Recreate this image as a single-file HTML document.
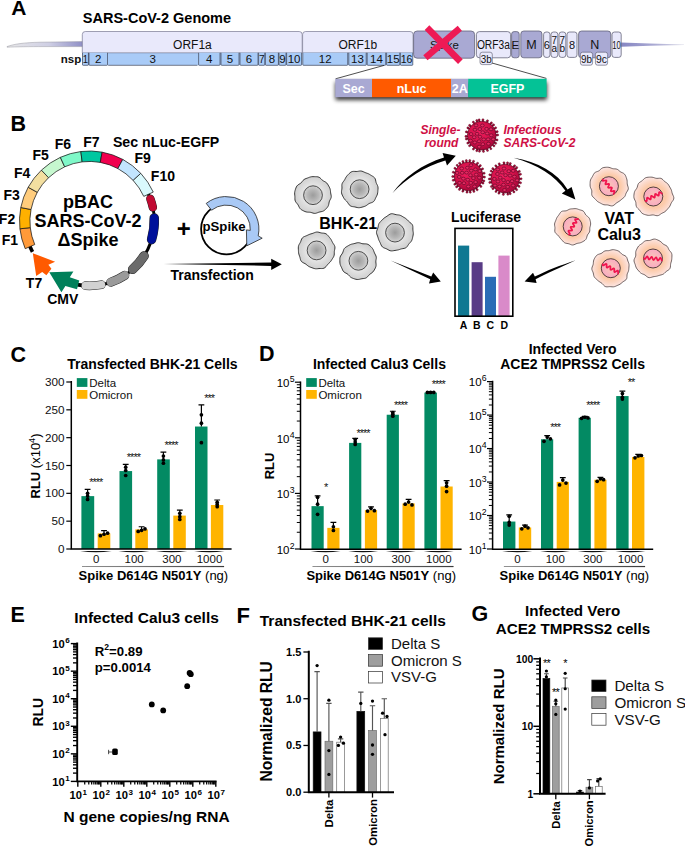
<!DOCTYPE html>
<html>
<head>
<meta charset="utf-8">
<title>Figure</title>
<style>
html,body{margin:0;padding:0;background:#fff;}
body{width:685px;height:847px;overflow:hidden;position:relative;}
svg{position:absolute;left:0;top:0;display:block;}
svg text{font-family:"Liberation Sans",sans-serif;}
</style>
</head>
<body>
<svg width="685" height="847" viewBox="0 0 685 847">
<rect x="0" y="0" width="685" height="847" fill="#ffffff"/>
<defs><linearGradient id="tailL" x1="0" x2="1" y1="0" y2="0"><stop offset="0" stop-color="#e8e8e8"/><stop offset="0.55" stop-color="#cfcfe4"/><stop offset="1" stop-color="#8f8fc6"/></linearGradient><linearGradient id="tailR" x1="0" x2="1" y1="0" y2="0"><stop offset="0" stop-color="#8585c2"/><stop offset="0.5" stop-color="#a8a8d2"/><stop offset="1" stop-color="#dcdce8"/></linearGradient><filter id="blurA" x="-5%" y="-60%" width="110%" height="220%"><feGaussianBlur stdDeviation="2.1"/></filter></defs>
<text x="11.20" y="15.40" font-size="21" font-weight="bold" text-anchor="start" fill="#000" >A</text>
<text x="82.80" y="22.50" font-size="14.5" font-weight="bold" text-anchor="start" fill="#000" >SARS-CoV-2 Genome</text>
<path d="M7,46.6 C14,44 24,42.6 40,42.2 L83,41.6 L83,46.6 L44,46.6 C30,46.6 16,46.8 7,47.2 Z" fill="url(#tailL)" stroke="#8c8c98" stroke-width="0.45"/>
<path d="M621,42.5 L650,43.5 L684,44.4 L684,44.9 L650,45.7 L621,46.7 Z" fill="url(#tailR)"/>
<rect x="82.3" y="52.8" width="219.9" height="12.5" fill="#a9cbf7"/>
<path d="M82.3,52.8 L82.3,34.5 Q82.3,31.5 85.3,31.5 L299.2,31.5 Q302.2,31.5 302.2,34.5 L302.2,52.8 Z" fill="#e9e9fb" stroke="#70708a" stroke-width="0.65"/>
<text x="192.40" y="48.60" font-size="12" font-weight="normal" text-anchor="middle" fill="#111" >ORF1a</text>
<path d="M82.5,52.8 L82.5,64.5 Q82.5,65.3 83.3,65.3 L87.60000000000001,65.3 Q88.4,65.3 88.4,64.5 L88.4,52.8" fill="#a9cbf7" stroke="#2e2e3a" stroke-width="0.6"/><text x="85.45" y="63.40" font-size="11.5" font-weight="normal" text-anchor="middle" fill="#111" textLength="5.3" lengthAdjust="spacingAndGlyphs">1</text>
<path d="M89,52.8 L89,64.5 Q89,65.3 89.8,65.3 L106.7,65.3 Q107.5,65.3 107.5,64.5 L107.5,52.8" fill="#a9cbf7" stroke="#2e2e3a" stroke-width="0.6"/><text x="98.25" y="63.40" font-size="11.5" font-weight="normal" text-anchor="middle" fill="#111" >2</text>
<path d="M108.2,65.3 L197.4,65.3" fill="none" stroke="#2e2e3a" stroke-width="0.6"/><text x="152.80" y="63.40" font-size="11.5" font-weight="normal" text-anchor="middle" fill="#111" >3</text>
<path d="M198.6,52.8 L198.6,64.5 Q198.6,65.3 199.4,65.3 L219.2,65.3 Q220,65.3 220,64.5 L220,52.8" fill="#a9cbf7" stroke="#2e2e3a" stroke-width="0.6"/><text x="209.30" y="63.40" font-size="11.5" font-weight="normal" text-anchor="middle" fill="#111" >4</text>
<path d="M221,52.8 L221,64.5 Q221,65.3 221.8,65.3 L238.2,65.3 Q239,65.3 239,64.5 L239,52.8" fill="#a9cbf7" stroke="#2e2e3a" stroke-width="0.6"/><text x="230.00" y="63.40" font-size="11.5" font-weight="normal" text-anchor="middle" fill="#111" >5</text>
<path d="M240,52.8 L240,64.5 Q240,65.3 240.8,65.3 L257.2,65.3 Q258,65.3 258,64.5 L258,52.8" fill="#a9cbf7" stroke="#2e2e3a" stroke-width="0.6"/><text x="249.00" y="63.40" font-size="11.5" font-weight="normal" text-anchor="middle" fill="#111" >6</text>
<path d="M258.6,52.8 L258.6,64.5 Q258.6,65.3 259.40000000000003,65.3 L264.0,65.3 Q264.8,65.3 264.8,64.5 L264.8,52.8" fill="#a9cbf7" stroke="#2e2e3a" stroke-width="0.6"/><text x="261.70" y="63.40" font-size="11.5" font-weight="normal" text-anchor="middle" fill="#111" textLength="5.6" lengthAdjust="spacingAndGlyphs">7</text>
<path d="M265.4,52.8 L265.4,64.5 Q265.4,65.3 266.2,65.3 L277.59999999999997,65.3 Q278.4,65.3 278.4,64.5 L278.4,52.8" fill="#a9cbf7" stroke="#2e2e3a" stroke-width="0.6"/><text x="271.90" y="63.40" font-size="11.5" font-weight="normal" text-anchor="middle" fill="#111" >8</text>
<path d="M279,52.8 L279,64.5 Q279,65.3 279.8,65.3 L285.2,65.3 Q286,65.3 286,64.5 L286,52.8" fill="#a9cbf7" stroke="#2e2e3a" stroke-width="0.6"/><text x="282.50" y="63.40" font-size="11.5" font-weight="normal" text-anchor="middle" fill="#111" >9</text>
<path d="M286.6,52.8 L286.6,64.5 Q286.6,65.3 287.40000000000003,65.3 L300.8,65.3 Q301.6,65.3 301.6,64.5 L301.6,52.8" fill="#a9cbf7" stroke="#2e2e3a" stroke-width="0.6"/><text x="294.10" y="63.40" font-size="11.5" font-weight="normal" text-anchor="middle" fill="#111" >10</text>
<rect x="302.6" y="52.8" width="110.4" height="12.5" fill="#a9cbf7"/>
<path d="M302.6,52.8 L302.6,34.5 Q302.6,31.5 305.6,31.5 L410.1,31.5 Q413.1,31.5 413.1,34.5 L413.1,52.8 Z" fill="#e9e9fb" stroke="#70708a" stroke-width="0.65"/>
<text x="357.80" y="48.60" font-size="12" font-weight="normal" text-anchor="middle" fill="#111" >ORF1b</text>
<path d="M302.8,52.8 L302.8,64.5 Q302.8,65.3 303.6,65.3 L346.9,65.3 Q347.7,65.3 347.7,64.5 L347.7,52.8" fill="#a9cbf7" stroke="#2e2e3a" stroke-width="0.6"/><text x="325.25" y="63.40" font-size="11.5" font-weight="normal" text-anchor="middle" fill="#111" >12</text>
<path d="M348.8,52.8 L348.8,64.5 Q348.8,65.3 349.6,65.3 L365.4,65.3 Q366.2,65.3 366.2,64.5 L366.2,52.8" fill="#a9cbf7" stroke="#2e2e3a" stroke-width="0.6"/><text x="357.50" y="63.40" font-size="11.5" font-weight="normal" text-anchor="middle" fill="#111" >13</text>
<path d="M367.2,52.8 L367.2,64.5 Q367.2,65.3 368.0,65.3 L384.9,65.3 Q385.7,65.3 385.7,64.5 L385.7,52.8" fill="#a9cbf7" stroke="#2e2e3a" stroke-width="0.6"/><text x="376.45" y="63.40" font-size="11.5" font-weight="normal" text-anchor="middle" fill="#111" >14</text>
<path d="M386.6,52.8 L386.6,64.5 Q386.6,65.3 387.40000000000003,65.3 L399.0,65.3 Q399.8,65.3 399.8,64.5 L399.8,52.8" fill="#a9cbf7" stroke="#2e2e3a" stroke-width="0.6"/><text x="393.20" y="63.40" font-size="11.5" font-weight="normal" text-anchor="middle" fill="#111" >15</text>
<path d="M400.4,52.8 L400.4,64.5 Q400.4,65.3 401.2,65.3 L412.0,65.3 Q412.8,65.3 412.8,64.5 L412.8,52.8" fill="#a9cbf7" stroke="#2e2e3a" stroke-width="0.6"/><text x="406.60" y="63.40" font-size="11.5" font-weight="normal" text-anchor="middle" fill="#111" textLength="11.8" lengthAdjust="spacingAndGlyphs">16</text>
<text x="81.20" y="62.60" font-size="11.5" font-weight="bold" text-anchor="end" fill="#111" >nsp</text>
<rect x="413.6" y="31" width="61.00" height="27.20" rx="3.5" ry="3.5" fill="#a9a9d3" stroke="#55556a" stroke-width="0.7"/>
<text x="444.50" y="48.60" font-size="11.5" font-weight="normal" text-anchor="middle" fill="#111" >Spike</text>
<rect x="476.4" y="31.6" width="34.20" height="26.20" rx="3" ry="3" fill="#e9e9fb" stroke="#55556a" stroke-width="0.7"/>
<text x="493.40" y="49.20" font-size="12" font-weight="normal" text-anchor="middle" fill="#111" textLength="33" lengthAdjust="spacingAndGlyphs">ORF3a</text>
<rect x="511.6" y="31.6" width="7.60" height="26.20" rx="2.5" ry="2.5" fill="#a9a9d3" stroke="#55556a" stroke-width="0.7"/>
<text x="515.40" y="48.60" font-size="11.5" font-weight="normal" text-anchor="middle" fill="#111" >E</text>
<rect x="520.8" y="31" width="21.20" height="26.80" rx="3" ry="3" fill="#a9a9d3" stroke="#55556a" stroke-width="0.7"/>
<text x="531.40" y="48.80" font-size="12.5" font-weight="normal" text-anchor="middle" fill="#111" >M</text>
<rect x="543.6" y="32" width="6.40" height="25.40" rx="2.5" ry="2.5" fill="#e9e9fb" stroke="#55556a" stroke-width="0.7"/>
<text x="546.80" y="49.20" font-size="11" font-weight="normal" text-anchor="middle" fill="#111" >6</text>
<rect x="551" y="32" width="6.80" height="25.40" rx="2.5" ry="2.5" fill="#e9e9fb" stroke="#55556a" stroke-width="0.7"/>
<text x="554.40" y="43.60" font-size="10" font-weight="normal" text-anchor="middle" fill="#111" >7</text>
<text x="554.40" y="52.20" font-size="10" font-weight="normal" text-anchor="middle" fill="#111" >a</text>
<rect x="559" y="32" width="6.80" height="25.40" rx="2.5" ry="2.5" fill="#e9e9fb" stroke="#55556a" stroke-width="0.7"/>
<text x="562.40" y="43.60" font-size="10" font-weight="normal" text-anchor="middle" fill="#111" >7</text>
<text x="562.40" y="52.20" font-size="10" font-weight="normal" text-anchor="middle" fill="#111" >b</text>
<rect x="567" y="32" width="10.00" height="25.40" rx="2.5" ry="2.5" fill="#e9e9fb" stroke="#55556a" stroke-width="0.7"/>
<text x="572.00" y="49.20" font-size="11" font-weight="normal" text-anchor="middle" fill="#111" >8</text>
<rect x="578.6" y="31" width="32.20" height="26.80" rx="3" ry="3" fill="#a9a9d3" stroke="#55556a" stroke-width="0.7"/>
<text x="594.80" y="49.20" font-size="12.5" font-weight="normal" text-anchor="middle" fill="#111" >N</text>
<rect x="612" y="32" width="9.20" height="25.40" rx="2.5" ry="2.5" fill="#e9e9fb" stroke="#55556a" stroke-width="0.7"/>
<text x="616.60" y="49.00" font-size="10.5" font-weight="normal" text-anchor="middle" fill="#111" textLength="8.6" lengthAdjust="spacingAndGlyphs">10</text>
<rect x="480" y="52.2" width="12.30" height="12.40" rx="2.2" ry="2.2" fill="#e9e9fb" stroke="#55556a" stroke-width="0.6"/>
<text x="486.20" y="63.00" font-size="11" font-weight="normal" text-anchor="middle" fill="#111" textLength="11" lengthAdjust="spacingAndGlyphs">3b</text>
<rect x="580.4" y="52.2" width="12.20" height="13.00" rx="2.2" ry="2.2" fill="#e9e9fb" stroke="#55556a" stroke-width="0.6"/>
<text x="586.60" y="63.40" font-size="11" font-weight="normal" text-anchor="middle" fill="#111" textLength="11" lengthAdjust="spacingAndGlyphs">9b</text>
<rect x="595.4" y="52.2" width="12.20" height="13.00" rx="2.2" ry="2.2" fill="#e9e9fb" stroke="#55556a" stroke-width="0.6"/>
<text x="601.50" y="63.40" font-size="11" font-weight="normal" text-anchor="middle" fill="#111" textLength="11" lengthAdjust="spacingAndGlyphs">9c</text>
<g stroke="#ee1a55" stroke-width="6.5" stroke-linecap="butt"><line x1="427" y1="27.6" x2="460.4" y2="61.6"/><line x1="459.8" y1="28.2" x2="425.4" y2="57.8"/></g>
<line x1="335.6" y1="78.8" x2="384" y2="65.4" stroke="#222" stroke-width="0.8"/>
<line x1="546.4" y1="78.4" x2="492" y2="63" stroke="#222" stroke-width="0.8"/>
<rect x="335.4" y="82.0" width="211.6" height="18.0" fill="#000" opacity="0.8" filter="url(#blurA)"/>
<rect x="335.3" y="78.8" width="36.8" height="18.4" fill="#a9a9d3"/>
<rect x="372" y="78.8" width="79.2" height="18.4" fill="#ff5a00"/>
<rect x="451" y="78.8" width="17.4" height="18.4" fill="#a9a9d3"/>
<rect x="468.2" y="78.8" width="78.4" height="18.4" fill="#04c296"/>
<text x="353.60" y="92.60" font-size="12.5" font-weight="bold" text-anchor="middle" fill="#fff" >Sec</text>
<text x="411.60" y="92.60" font-size="12.5" font-weight="bold" text-anchor="middle" fill="#fff" >nLuc</text>
<text x="459.70" y="92.60" font-size="12.5" font-weight="bold" text-anchor="middle" fill="#fff" >2A</text>
<text x="507.40" y="92.60" font-size="12.5" font-weight="bold" text-anchor="middle" fill="#fff" >EGFP</text>
<defs><radialGradient id="nucG" cx="0.5" cy="0.5" r="0.5"><stop offset="0" stop-color="#9c9c9c"/><stop offset="0.6" stop-color="#b8b8b8"/><stop offset="1" stop-color="#d2d2d2"/></radialGradient><radialGradient id="cellG" cx="0.5" cy="0.5" r="0.5"><stop offset="0" stop-color="#e6e6e6"/><stop offset="0.55" stop-color="#e4e4e4"/><stop offset="0.8" stop-color="#d8d8d8"/><stop offset="1" stop-color="#d0d0d0"/></radialGradient><radialGradient id="calG" cx="0.5" cy="0.5" r="0.5"><stop offset="0" stop-color="#fbc7a2"/><stop offset="0.6" stop-color="#fccbaa"/><stop offset="0.85" stop-color="#fcdacc"/><stop offset="1" stop-color="#fde6e2"/></radialGradient><radialGradient id="calN" cx="0.5" cy="0.5" r="0.5"><stop offset="0" stop-color="#fbc4b4"/><stop offset="0.6" stop-color="#f9b6be"/><stop offset="1" stop-color="#f8aac0"/></radialGradient></defs>
<text x="10.50" y="130.60" font-size="21.5" font-weight="bold" text-anchor="start" fill="#000" >B</text>
<path d="M147.74,192.59 A64.8,64.8 0 0 1 77.14,284.61" fill="none" stroke="#000" stroke-width="2.9" stroke-linecap="butt"/>
<path d="M83.85,285.55 A64.8,64.8 0 0 1 76.58,284.50" fill="none" stroke="#000" stroke-width="3.6" stroke-linecap="butt"/>
<path d="M32.50,251.82 A64.8,64.8 0 0 1 29.42,245.27" fill="none" stroke="#000" stroke-width="3.6" stroke-linecap="butt"/>
<path d="M25.21,248.69 A70.0,70.0 0 0 1 19.94,228.80 L30.27,227.64 A59.6,59.6 0 0 0 34.76,244.57 Z" fill="#ff9a3a" stroke="#151515" stroke-width="0.75" stroke-linejoin="round"/>
<path d="M19.94,228.80 A70.0,70.0 0 0 1 20.81,207.52 L31.01,209.53 A59.6,59.6 0 0 0 30.27,227.64 Z" fill="#ffb000" stroke="#151515" stroke-width="0.75" stroke-linejoin="round"/>
<path d="M20.81,207.52 A70.0,70.0 0 0 1 28.16,187.28 L37.27,192.29 A59.6,59.6 0 0 0 31.01,209.53 Z" fill="#ffcc7c" stroke="#151515" stroke-width="0.75" stroke-linejoin="round"/>
<path d="M28.16,187.28 A70.0,70.0 0 0 1 41.40,170.14 L48.55,177.70 A59.6,59.6 0 0 0 37.27,192.29 Z" fill="#f3dfa0" stroke="#151515" stroke-width="0.75" stroke-linejoin="round"/>
<path d="M41.40,170.14 A70.0,70.0 0 0 1 60.36,157.35 L64.69,166.81 A59.6,59.6 0 0 0 48.55,177.70 Z" fill="#c6f8cf" stroke="#151515" stroke-width="0.75" stroke-linejoin="round"/>
<path d="M60.36,157.35 A70.0,70.0 0 0 1 80.85,151.54 L82.13,161.86 A59.6,59.6 0 0 0 64.69,166.81 Z" fill="#7ff8c8" stroke="#151515" stroke-width="0.75" stroke-linejoin="round"/>
<path d="M80.85,151.54 A70.0,70.0 0 0 1 102.14,152.15 L100.26,162.38 A59.6,59.6 0 0 0 82.13,161.86 Z" fill="#00c7a0" stroke="#151515" stroke-width="0.75" stroke-linejoin="round"/>
<path d="M102.14,152.15 A70.0,70.0 0 0 1 122.79,159.42 L117.85,168.57 A59.6,59.6 0 0 0 100.26,162.38 Z" fill="#f0004e" stroke="#151515" stroke-width="0.75" stroke-linejoin="round"/>
<path d="M122.79,159.42 A70.0,70.0 0 0 1 140.78,173.35 L133.16,180.43 A59.6,59.6 0 0 0 117.85,168.57 Z" fill="#c2e5ff" stroke="#151515" stroke-width="0.75" stroke-linejoin="round"/>
<path d="M140.78,173.35 A70.0,70.0 0 0 1 153.25,192.08 L143.78,196.38 A59.6,59.6 0 0 0 133.16,180.43 Z" fill="#d9f9fd" stroke="#151515" stroke-width="0.75" stroke-linejoin="round"/>
<path d="M150.39,198.84 A64.8,64.8 0 0 1 152.84,207.31" fill="none" stroke="#222" stroke-width="8.5" stroke-linecap="round"/>
<path d="M150.39,198.84 A64.8,64.8 0 0 1 152.84,207.31" fill="none" stroke="#c10a32" stroke-width="7.6" stroke-linecap="round"/>
<path d="M154.23,218.06 A64.8,64.8 0 0 1 151.60,239.51" fill="none" stroke="#222" stroke-width="9.5" stroke-linecap="round"/>
<path d="M154.23,218.06 A64.8,64.8 0 0 1 151.60,239.51" fill="none" stroke="#00109a" stroke-width="8.6" stroke-linecap="round"/>
<path d="M144.09,255.91 A64.8,64.8 0 0 1 132.69,269.31" fill="none" stroke="#222" stroke-width="9.5" stroke-linecap="round"/>
<path d="M144.09,255.91 A64.8,64.8 0 0 1 132.69,269.31" fill="none" stroke="#6b6b6b" stroke-width="8.6" stroke-linecap="round"/>
<path d="M124.79,275.35 A64.8,64.8 0 0 1 110.81,282.20" fill="none" stroke="#222" stroke-width="9.1" stroke-linecap="round"/>
<path d="M124.79,275.35 A64.8,64.8 0 0 1 110.81,282.20" fill="none" stroke="#9a9a9a" stroke-width="8.2" stroke-linecap="round"/>
<path d="M101.31,284.71 A64.8,64.8 0 0 1 85.54,285.68" fill="none" stroke="#222" stroke-width="8.7" stroke-linecap="round"/>
<path d="M101.31,284.71 A64.8,64.8 0 0 1 85.54,285.68" fill="none" stroke="#d2d2d2" stroke-width="7.8" stroke-linecap="round"/>
<path d="M79.3,280.4 L69.8,277.3 L73.4,271.5 L49.3,272.2 L61.4,292.2 L65.4,286.1 L77.0,289.2 Z" fill="#00805a"/>
<path d="M32.8,253.2 L55.1,261.7 L48.4,264.8 L51.4,268.8 L46.4,275.2 L42.2,272.0 L36.2,275.9 Z" fill="#ff5a00"/>
<text x="9.80" y="244.90" font-size="14" font-weight="bold" text-anchor="middle" fill="#000" >F1</text>
<text x="7.00" y="223.80" font-size="14" font-weight="bold" text-anchor="middle" fill="#000" >F2</text>
<text x="11.60" y="200.00" font-size="14" font-weight="bold" text-anchor="middle" fill="#000" >F3</text>
<text x="22.20" y="178.20" font-size="14" font-weight="bold" text-anchor="middle" fill="#000" >F4</text>
<text x="40.70" y="159.60" font-size="14" font-weight="bold" text-anchor="middle" fill="#000" >F5</text>
<text x="62.80" y="149.00" font-size="14" font-weight="bold" text-anchor="middle" fill="#000" >F6</text>
<text x="91.40" y="146.80" font-size="14" font-weight="bold" text-anchor="middle" fill="#000" >F7</text>
<text x="142.70" y="163.10" font-size="14" font-weight="bold" text-anchor="middle" fill="#000" >F9</text>
<text x="162.90" y="180.60" font-size="14" font-weight="bold" text-anchor="middle" fill="#000" >F10</text>
<text x="112.90" y="146.90" font-size="14" font-weight="bold" text-anchor="start" fill="#000" textLength="106.4" lengthAdjust="spacingAndGlyphs">Sec nLuc-EGFP</text>
<text x="34.00" y="287.70" font-size="14" font-weight="bold" text-anchor="middle" fill="#000" >T7</text>
<text x="62.80" y="303.90" font-size="14" font-weight="bold" text-anchor="middle" fill="#000" >CMV</text>
<text x="88.00" y="208.40" font-size="18" font-weight="bold" text-anchor="middle" fill="#000" >pBAC</text>
<text x="88.00" y="227.20" font-size="18" font-weight="bold" text-anchor="middle" fill="#000" >SARS-CoV-2</text>
<text x="88.00" y="246.40" font-size="18" font-weight="bold" text-anchor="middle" fill="#000" >&#916;Spike</text>
<text x="183.70" y="237.20" font-size="24" font-weight="bold" text-anchor="middle" fill="#000" >+</text>
<circle cx="226.5" cy="229.0" r="25.4" fill="none" stroke="#000" stroke-width="1.8"/>
<path d="M206.23,203.41 A32.6,32.6 0 0 1 258.19,235.88 L262.2,238.2 L246.8,245.8 L246.4,229.9 L250.27,230.36 A24.0,24.0 0 0 0 211.52,210.19 Z" fill="#a9c9f5" stroke="#222" stroke-width="0.8" stroke-linejoin="miter"/>
<text x="224.10" y="230.80" font-size="13.2" font-weight="bold" text-anchor="middle" fill="#000" >pSpike</text>
<path d="M163.4,263.9 L271.2,262.6 L271.2,258.7 L281.8,264.3 L271.2,269.9 L271.2,265.9 Z" fill="#000"/>
<text x="212.10" y="280.10" font-size="14" font-weight="bold" text-anchor="middle" fill="#000" >Transfection</text>
<path d="M331.12,195.20 L331.26,196.40 L331.13,197.59 L330.71,198.72 L330.13,199.79 L329.59,200.83 L329.20,201.91 L328.97,203.08 L328.76,204.30 L328.41,205.49 L327.86,206.60 L327.14,207.60 L326.33,208.53 L325.47,209.42 L324.55,210.25 L323.51,210.93 L322.36,211.41 L321.14,211.70 L319.93,211.93 L318.78,212.23 L317.67,212.65 L316.56,213.08 L315.39,213.37 L314.19,213.37 L313.00,213.10 L311.85,212.71 L310.74,212.39 L309.61,212.23 L308.45,212.18 L307.26,212.11 L306.08,211.90 L304.95,211.52 L303.86,211.03 L302.78,210.49 L301.72,209.91 L300.72,209.20 L299.88,208.32 L299.23,207.28 L298.71,206.17 L298.19,205.10 L297.54,204.12 L296.77,203.21 L295.98,202.25 L295.36,201.19 L295.01,200.02 L294.92,198.80 L294.92,197.58 L294.89,196.39 L294.78,195.20 L294.66,194.00 L294.65,192.78 L294.82,191.58 L295.12,190.41 L295.48,189.25 L295.87,188.10 L296.33,186.98 L296.96,185.94 L297.82,185.06 L298.86,184.35 L299.92,183.73 L300.87,183.07 L301.66,182.27 L302.35,181.33 L303.10,180.38 L303.97,179.57 L304.99,178.97 L306.10,178.53 L307.21,178.14 L308.32,177.72 L309.44,177.28 L310.59,176.91 L311.79,176.70 L313.00,176.65 L314.21,176.67 L315.44,176.69 L316.68,176.72 L317.91,176.87 L319.09,177.27 L320.14,177.97 L321.05,178.87 L321.90,179.78 L322.79,180.55 L323.78,181.15 L324.85,181.69 L325.90,182.30 L326.81,183.09 L327.54,184.04 L328.16,185.07 L328.75,186.11 L329.32,187.15 L329.83,188.23 L330.21,189.36 L330.41,190.53 L330.52,191.72 L330.65,192.88 L330.87,194.03 Z" fill="url(#cellG)" stroke="#262626" stroke-width="0.9" stroke-linejoin="round"/>
<circle cx="313" cy="195.2" r="9.4" fill="url(#nucG)" stroke="#2a2a2a" stroke-width="0.8"/>
<path d="M378.01,189.20 L377.90,190.40 L377.80,191.60 L377.68,192.80 L377.45,193.98 L377.06,195.13 L376.54,196.22 L375.98,197.28 L375.47,198.36 L374.99,199.48 L374.42,200.57 L373.64,201.51 L372.62,202.22 L371.44,202.70 L370.25,203.08 L369.17,203.52 L368.21,204.12 L367.30,204.82 L366.36,205.52 L365.33,206.09 L364.24,206.51 L363.11,206.84 L361.96,207.16 L360.80,207.47 L359.60,207.68 L358.39,207.71 L357.19,207.53 L356.01,207.23 L354.85,206.94 L353.64,206.74 L352.41,206.57 L351.19,206.26 L350.09,205.67 L349.18,204.80 L348.44,203.75 L347.77,202.69 L347.05,201.75 L346.25,200.91 L345.40,200.10 L344.60,199.22 L343.92,198.25 L343.34,197.22 L342.81,196.16 L342.28,195.08 L341.81,193.97 L341.52,192.80 L341.47,191.59 L341.63,190.38 L341.85,189.20 L341.98,188.04 L341.95,186.88 L341.87,185.67 L341.93,184.47 L342.26,183.32 L342.86,182.27 L343.59,181.30 L344.29,180.36 L344.89,179.37 L345.42,178.32 L345.98,177.26 L346.66,176.26 L347.44,175.33 L348.29,174.46 L349.16,173.58 L350.09,172.73 L351.12,172.00 L352.28,171.53 L353.54,171.36 L354.83,171.40 L356.08,171.48 L357.26,171.44 L358.42,171.25 L359.60,171.04 L360.79,170.99 L361.97,171.19 L363.10,171.63 L364.17,172.14 L365.23,172.60 L366.31,172.99 L367.41,173.36 L368.49,173.81 L369.51,174.36 L370.50,174.99 L371.51,175.61 L372.57,176.23 L373.61,176.91 L374.52,177.75 L375.19,178.79 L375.58,179.98 L375.81,181.21 L376.07,182.38 L376.48,183.47 L377.02,184.53 L377.56,185.63 L377.93,186.79 L378.06,187.99 Z" fill="url(#cellG)" stroke="#262626" stroke-width="0.9" stroke-linejoin="round"/>
<circle cx="359.6" cy="189.2" r="9.4" fill="url(#nucG)" stroke="#2a2a2a" stroke-width="0.8"/>
<path d="M413.25,232.60 L413.28,233.80 L413.15,234.99 L412.91,236.16 L412.65,237.33 L412.38,238.50 L412.06,239.66 L411.57,240.77 L410.88,241.77 L410.07,242.67 L409.25,243.53 L408.52,244.46 L407.88,245.48 L407.20,246.51 L406.36,247.41 L405.32,248.04 L404.12,248.40 L402.89,248.60 L401.71,248.81 L400.60,249.11 L399.52,249.48 L398.43,249.83 L397.30,250.09 L396.16,250.27 L395.00,250.44 L393.82,250.64 L392.60,250.84 L391.36,250.90 L390.15,250.71 L389.01,250.25 L387.94,249.64 L386.89,249.04 L385.79,248.56 L384.62,248.14 L383.46,247.64 L382.43,246.93 L381.63,245.97 L381.04,244.84 L380.56,243.68 L380.08,242.57 L379.56,241.52 L379.04,240.47 L378.60,239.39 L378.25,238.29 L377.93,237.17 L377.55,236.07 L377.11,234.96 L376.70,233.80 L376.50,232.60 L376.60,231.39 L376.98,230.23 L377.46,229.11 L377.87,228.01 L378.13,226.87 L378.32,225.69 L378.58,224.50 L379.07,223.40 L379.77,222.42 L380.60,221.55 L381.45,220.72 L382.27,219.87 L383.09,219.02 L383.96,218.22 L384.92,217.52 L385.93,216.89 L386.94,216.25 L387.93,215.53 L388.95,214.77 L390.05,214.11 L391.25,213.74 L392.52,213.73 L393.78,214.02 L395.00,214.39 L396.17,214.68 L397.34,214.84 L398.51,214.95 L399.67,215.16 L400.78,215.56 L401.83,216.12 L402.82,216.73 L403.82,217.33 L404.82,217.90 L405.80,218.53 L406.69,219.27 L407.50,220.10 L408.28,220.95 L409.13,221.76 L410.09,222.52 L411.09,223.31 L411.98,224.23 L412.58,225.32 L412.85,226.54 L412.88,227.81 L412.86,229.05 L412.93,230.24 L413.09,231.41 Z" fill="url(#cellG)" stroke="#262626" stroke-width="0.9" stroke-linejoin="round"/>
<circle cx="395" cy="232.6" r="9.4" fill="url(#nucG)" stroke="#2a2a2a" stroke-width="0.8"/>
<path d="M334.49,250.40 L334.32,251.56 L334.29,252.73 L334.29,253.92 L334.18,255.11 L333.84,256.25 L333.30,257.32 L332.67,258.32 L332.04,259.31 L331.43,260.31 L330.77,261.28 L330.03,262.18 L329.19,262.99 L328.34,263.78 L327.53,264.64 L326.77,265.62 L325.98,266.65 L325.06,267.56 L323.97,268.20 L322.74,268.49 L321.46,268.54 L320.20,268.51 L318.99,268.56 L317.80,268.69 L316.60,268.79 L315.40,268.74 L314.22,268.50 L313.07,268.13 L311.96,267.72 L310.85,267.33 L309.76,266.92 L308.71,266.39 L307.75,265.73 L306.87,264.97 L305.99,264.23 L305.01,263.61 L303.92,263.08 L302.79,262.51 L301.77,261.78 L301.01,260.82 L300.53,259.68 L300.22,258.48 L299.93,257.31 L299.57,256.18 L299.16,255.07 L298.80,253.94 L298.58,252.77 L298.48,251.59 L298.43,250.40 L298.37,249.20 L298.31,247.99 L298.36,246.77 L298.63,245.59 L299.14,244.47 L299.76,243.43 L300.35,242.39 L300.82,241.29 L301.21,240.12 L301.68,238.95 L302.36,237.91 L303.31,237.11 L304.43,236.52 L305.60,236.07 L306.72,235.62 L307.78,235.13 L308.83,234.64 L309.89,234.21 L310.99,233.87 L312.09,233.57 L313.18,233.20 L314.28,232.76 L315.42,232.32 L316.60,232.05 L317.80,232.05 L318.98,232.30 L320.13,232.66 L321.28,232.94 L322.47,233.10 L323.73,233.20 L324.97,233.42 L326.13,233.90 L327.12,234.65 L327.98,235.58 L328.75,236.54 L329.52,237.48 L330.27,238.41 L330.96,239.38 L331.54,240.42 L332.06,241.48 L332.58,242.52 L333.20,243.52 L333.88,244.53 L334.51,245.60 L334.89,246.76 L334.95,247.98 L334.76,249.21 Z" fill="url(#cellG)" stroke="#262626" stroke-width="0.9" stroke-linejoin="round"/>
<circle cx="316.6" cy="250.4" r="9.4" fill="url(#nucG)" stroke="#2a2a2a" stroke-width="0.8"/>
<path d="M375.87,260.80 L375.84,261.94 L375.96,263.11 L376.09,264.32 L376.08,265.54 L375.84,266.72 L375.40,267.84 L374.86,268.92 L374.28,269.97 L373.65,270.99 L372.90,271.93 L372.01,272.74 L371.03,273.43 L370.07,274.10 L369.19,274.86 L368.39,275.76 L367.59,276.71 L366.66,277.55 L365.58,278.14 L364.39,278.44 L363.17,278.58 L361.97,278.72 L360.79,278.96 L359.61,279.25 L358.40,279.46 L357.18,279.49 L355.96,279.30 L354.79,278.97 L353.63,278.59 L352.50,278.17 L351.42,277.65 L350.43,276.97 L349.56,276.11 L348.78,275.20 L347.99,274.37 L347.08,273.71 L346.03,273.17 L344.93,272.61 L343.93,271.90 L343.15,270.99 L342.58,269.93 L342.12,268.83 L341.65,267.74 L341.12,266.67 L340.60,265.57 L340.19,264.42 L339.96,263.23 L339.88,262.01 L339.85,260.80 L339.84,259.58 L339.87,258.36 L340.09,257.16 L340.55,256.02 L341.22,254.97 L341.95,253.99 L342.57,252.99 L343.01,251.91 L343.35,250.74 L343.75,249.56 L344.37,248.49 L345.22,247.62 L346.23,246.92 L347.28,246.30 L348.31,245.70 L349.34,245.10 L350.40,244.58 L351.52,244.19 L352.67,243.92 L353.82,243.69 L354.94,243.41 L356.07,243.07 L357.22,242.78 L358.40,242.68 L359.58,242.84 L360.72,243.20 L361.83,243.58 L362.95,243.80 L364.15,243.85 L365.42,243.85 L366.70,243.97 L367.90,244.34 L368.98,244.97 L369.94,245.76 L370.83,246.62 L371.69,247.51 L372.48,248.45 L373.13,249.50 L373.62,250.63 L374.02,251.78 L374.44,252.89 L374.96,253.94 L375.53,254.98 L376.03,256.08 L376.28,257.24 L376.26,258.45 L376.06,259.64 Z" fill="url(#cellG)" stroke="#262626" stroke-width="0.9" stroke-linejoin="round"/>
<circle cx="358.4" cy="260.8" r="9.4" fill="url(#nucG)" stroke="#2a2a2a" stroke-width="0.8"/>
<text x="348.20" y="228.60" font-size="16" font-weight="bold" text-anchor="middle" fill="#000" >BHK-21</text>
<path d="M392.4,193.2 C404,177.4 422,164.4 444.0,157.6 L442.6,153.0 L455.8,155.8 L447.0,165.6 L445.4,160.6 C425,166.6 406,178.6 392.4,193.2 Z" fill="#000"/>
<path d="M390.6,260.4 L431.3,276.5 L433.2,272.4 L440.8,281.6 L429.0,283.4 L430.2,279.3 Z" fill="#000"/>
<defs><radialGradient id="virG" cx="0.42" cy="0.38" r="0.62"><stop offset="0" stop-color="#ee1c5e"/><stop offset="0.55" stop-color="#d8124c"/><stop offset="1" stop-color="#a8083a"/></radialGradient></defs>
<line x1="495.39" y1="135.10" x2="497.69" y2="135.02" stroke="#5a0a22" stroke-width="1.5"/><circle cx="497.69" cy="135.02" r="1.05" fill="#b00c3c" stroke="#4a0818" stroke-width="0.4"/><line x1="494.88" y1="139.31" x2="497.10" y2="139.94" stroke="#5a0a22" stroke-width="1.5"/><circle cx="497.10" cy="139.94" r="1.05" fill="#b00c3c" stroke="#4a0818" stroke-width="0.4"/><line x1="493.67" y1="142.24" x2="495.68" y2="143.36" stroke="#5a0a22" stroke-width="1.5"/><circle cx="495.68" cy="143.36" r="1.05" fill="#b00c3c" stroke="#4a0818" stroke-width="0.4"/><line x1="492.20" y1="144.37" x2="493.96" y2="145.85" stroke="#5a0a22" stroke-width="1.5"/><circle cx="493.96" cy="145.85" r="1.05" fill="#b00c3c" stroke="#4a0818" stroke-width="0.4"/><line x1="489.53" y1="146.79" x2="490.84" y2="148.68" stroke="#5a0a22" stroke-width="1.5"/><circle cx="490.84" cy="148.68" r="1.05" fill="#b00c3c" stroke="#4a0818" stroke-width="0.4"/><line x1="486.69" y1="148.29" x2="487.51" y2="150.44" stroke="#5a0a22" stroke-width="1.5"/><circle cx="487.51" cy="150.44" r="1.05" fill="#b00c3c" stroke="#4a0818" stroke-width="0.4"/><line x1="483.23" y1="149.12" x2="483.48" y2="151.41" stroke="#5a0a22" stroke-width="1.5"/><circle cx="483.48" cy="151.41" r="1.05" fill="#b00c3c" stroke="#4a0818" stroke-width="0.4"/><line x1="479.77" y1="149.05" x2="479.43" y2="151.32" stroke="#5a0a22" stroke-width="1.5"/><circle cx="479.43" cy="151.32" r="1.05" fill="#b00c3c" stroke="#4a0818" stroke-width="0.4"/><line x1="477.50" y1="148.50" x2="476.77" y2="150.68" stroke="#5a0a22" stroke-width="1.5"/><circle cx="476.77" cy="150.68" r="1.05" fill="#b00c3c" stroke="#4a0818" stroke-width="0.4"/><line x1="474.61" y1="147.14" x2="473.39" y2="149.10" stroke="#5a0a22" stroke-width="1.5"/><circle cx="473.39" cy="149.10" r="1.05" fill="#b00c3c" stroke="#4a0818" stroke-width="0.4"/><line x1="471.32" y1="144.27" x2="469.55" y2="145.74" stroke="#5a0a22" stroke-width="1.5"/><circle cx="469.55" cy="145.74" r="1.05" fill="#b00c3c" stroke="#4a0818" stroke-width="0.4"/><line x1="469.80" y1="142.00" x2="467.77" y2="143.08" stroke="#5a0a22" stroke-width="1.5"/><circle cx="467.77" cy="143.08" r="1.05" fill="#b00c3c" stroke="#4a0818" stroke-width="0.4"/><line x1="468.51" y1="138.51" x2="466.27" y2="139.00" stroke="#5a0a22" stroke-width="1.5"/><circle cx="466.27" cy="139.00" r="1.05" fill="#b00c3c" stroke="#4a0818" stroke-width="0.4"/><line x1="468.22" y1="136.28" x2="465.92" y2="136.39" stroke="#5a0a22" stroke-width="1.5"/><circle cx="465.92" cy="136.39" r="1.05" fill="#b00c3c" stroke="#4a0818" stroke-width="0.4"/><line x1="468.58" y1="132.42" x2="466.34" y2="131.88" stroke="#5a0a22" stroke-width="1.5"/><circle cx="466.34" cy="131.88" r="1.05" fill="#b00c3c" stroke="#4a0818" stroke-width="0.4"/><line x1="469.90" y1="129.01" x2="467.89" y2="127.90" stroke="#5a0a22" stroke-width="1.5"/><circle cx="467.89" cy="127.90" r="1.05" fill="#b00c3c" stroke="#4a0818" stroke-width="0.4"/><line x1="471.38" y1="126.86" x2="469.62" y2="125.38" stroke="#5a0a22" stroke-width="1.5"/><circle cx="469.62" cy="125.38" r="1.05" fill="#b00c3c" stroke="#4a0818" stroke-width="0.4"/><line x1="474.58" y1="124.07" x2="473.36" y2="122.13" stroke="#5a0a22" stroke-width="1.5"/><circle cx="473.36" cy="122.13" r="1.05" fill="#b00c3c" stroke="#4a0818" stroke-width="0.4"/><line x1="477.49" y1="122.70" x2="476.76" y2="120.52" stroke="#5a0a22" stroke-width="1.5"/><circle cx="476.76" cy="120.52" r="1.05" fill="#b00c3c" stroke="#4a0818" stroke-width="0.4"/><line x1="479.53" y1="122.19" x2="479.14" y2="119.92" stroke="#5a0a22" stroke-width="1.5"/><circle cx="479.14" cy="119.92" r="1.05" fill="#b00c3c" stroke="#4a0818" stroke-width="0.4"/><line x1="482.80" y1="122.04" x2="482.97" y2="119.74" stroke="#5a0a22" stroke-width="1.5"/><circle cx="482.97" cy="119.74" r="1.05" fill="#b00c3c" stroke="#4a0818" stroke-width="0.4"/><line x1="486.68" y1="122.90" x2="487.50" y2="120.76" stroke="#5a0a22" stroke-width="1.5"/><circle cx="487.50" cy="120.76" r="1.05" fill="#b00c3c" stroke="#4a0818" stroke-width="0.4"/><line x1="490.01" y1="124.76" x2="491.40" y2="122.92" stroke="#5a0a22" stroke-width="1.5"/><circle cx="491.40" cy="122.92" r="1.05" fill="#b00c3c" stroke="#4a0818" stroke-width="0.4"/><line x1="491.87" y1="126.46" x2="493.58" y2="124.92" stroke="#5a0a22" stroke-width="1.5"/><circle cx="493.58" cy="124.92" r="1.05" fill="#b00c3c" stroke="#4a0818" stroke-width="0.4"/><line x1="493.66" y1="128.94" x2="495.66" y2="127.81" stroke="#5a0a22" stroke-width="1.5"/><circle cx="495.66" cy="127.81" r="1.05" fill="#b00c3c" stroke="#4a0818" stroke-width="0.4"/><line x1="494.98" y1="132.24" x2="497.21" y2="131.67" stroke="#5a0a22" stroke-width="1.5"/><circle cx="497.21" cy="131.67" r="1.05" fill="#b00c3c" stroke="#4a0818" stroke-width="0.4"/><circle cx="481.8" cy="135.6" r="14.4" fill="url(#virG)" stroke="#5a0a22" stroke-width="0.7"/><ellipse cx="479.93" cy="136.77" rx="1.85" ry="1.5" fill="#e42a62" stroke="#5e0a26" stroke-width="0.65"/><ellipse cx="482.72" cy="132.28" rx="1.85" ry="1.5" fill="#e42a62" stroke="#5e0a26" stroke-width="0.65"/><ellipse cx="483.77" cy="139.47" rx="1.85" ry="1.5" fill="#e42a62" stroke="#5e0a26" stroke-width="0.65"/><ellipse cx="477.04" cy="133.82" rx="1.85" ry="1.5" fill="#e42a62" stroke="#5e0a26" stroke-width="0.65"/><ellipse cx="487.11" cy="133.45" rx="1.85" ry="1.5" fill="#e42a62" stroke="#5e0a26" stroke-width="0.65"/><ellipse cx="479.08" cy="141.30" rx="1.85" ry="1.5" fill="#e42a62" stroke="#5e0a26" stroke-width="0.65"/><ellipse cx="479.80" cy="129.06" rx="1.85" ry="1.5" fill="#e42a62" stroke="#5e0a26" stroke-width="0.65"/><ellipse cx="488.12" cy="139.32" rx="1.85" ry="1.5" fill="#e42a62" stroke="#5e0a26" stroke-width="0.65"/><ellipse cx="474.17" cy="137.22" rx="1.85" ry="1.5" fill="#e42a62" stroke="#5e0a26" stroke-width="0.65"/><ellipse cx="486.58" cy="128.90" rx="1.85" ry="1.5" fill="#e42a62" stroke="#5e0a26" stroke-width="0.65"/><ellipse cx="482.85" cy="144.18" rx="1.85" ry="1.5" fill="#e42a62" stroke="#5e0a26" stroke-width="0.65"/><ellipse cx="474.93" cy="129.72" rx="1.85" ry="1.5" fill="#e42a62" stroke="#5e0a26" stroke-width="0.65"/><ellipse cx="491.22" cy="135.28" rx="1.85" ry="1.5" fill="#e42a62" stroke="#5e0a26" stroke-width="0.65"/><ellipse cx="474.81" cy="142.45" rx="1.85" ry="1.5" fill="#e42a62" stroke="#5e0a26" stroke-width="0.65"/><ellipse cx="482.34" cy="125.48" rx="1.85" ry="1.5" fill="#e42a62" stroke="#5e0a26" stroke-width="0.65"/><ellipse cx="488.45" cy="143.69" rx="1.85" ry="1.5" fill="#e42a62" stroke="#5e0a26" stroke-width="0.65"/><ellipse cx="471.10" cy="134.08" rx="1.85" ry="1.5" fill="#e42a62" stroke="#5e0a26" stroke-width="0.65"/><ellipse cx="490.98" cy="129.31" rx="1.85" ry="1.5" fill="#e42a62" stroke="#5e0a26" stroke-width="0.65"/><ellipse cx="479.21" cy="146.73" rx="1.85" ry="1.5" fill="#e42a62" stroke="#5e0a26" stroke-width="0.65"/><ellipse cx="476.04" cy="125.38" rx="1.85" ry="1.5" fill="#e42a62" stroke="#5e0a26" stroke-width="0.65"/><ellipse cx="493.23" cy="139.34" rx="1.85" ry="1.5" fill="#e42a62" stroke="#5e0a26" stroke-width="0.65"/><ellipse cx="470.58" cy="140.68" rx="1.85" ry="1.5" fill="#e42a62" stroke="#5e0a26" stroke-width="0.65"/>
<line x1="482.19" y1="177.02" x2="484.48" y2="177.12" stroke="#5a0a22" stroke-width="1.5"/><circle cx="484.48" cy="177.12" r="1.05" fill="#b00c3c" stroke="#4a0818" stroke-width="0.4"/><line x1="481.65" y1="180.24" x2="483.85" y2="180.89" stroke="#5a0a22" stroke-width="1.5"/><circle cx="483.85" cy="180.89" r="1.05" fill="#b00c3c" stroke="#4a0818" stroke-width="0.4"/><line x1="480.91" y1="182.18" x2="482.99" y2="183.16" stroke="#5a0a22" stroke-width="1.5"/><circle cx="482.99" cy="183.16" r="1.05" fill="#b00c3c" stroke="#4a0818" stroke-width="0.4"/><line x1="479.15" y1="184.99" x2="480.93" y2="186.44" stroke="#5a0a22" stroke-width="1.5"/><circle cx="480.93" cy="186.44" r="1.05" fill="#b00c3c" stroke="#4a0818" stroke-width="0.4"/><line x1="475.95" y1="187.85" x2="477.19" y2="189.78" stroke="#5a0a22" stroke-width="1.5"/><circle cx="477.19" cy="189.78" r="1.05" fill="#b00c3c" stroke="#4a0818" stroke-width="0.4"/><line x1="473.12" y1="189.23" x2="473.89" y2="191.40" stroke="#5a0a22" stroke-width="1.5"/><circle cx="473.89" cy="191.40" r="1.05" fill="#b00c3c" stroke="#4a0818" stroke-width="0.4"/><line x1="470.01" y1="189.93" x2="470.25" y2="192.21" stroke="#5a0a22" stroke-width="1.5"/><circle cx="470.25" cy="192.21" r="1.05" fill="#b00c3c" stroke="#4a0818" stroke-width="0.4"/><line x1="467.22" y1="189.93" x2="466.99" y2="192.22" stroke="#5a0a22" stroke-width="1.5"/><circle cx="466.99" cy="192.22" r="1.05" fill="#b00c3c" stroke="#4a0818" stroke-width="0.4"/><line x1="463.64" y1="189.06" x2="462.80" y2="191.21" stroke="#5a0a22" stroke-width="1.5"/><circle cx="462.80" cy="191.21" r="1.05" fill="#b00c3c" stroke="#4a0818" stroke-width="0.4"/><line x1="460.76" y1="187.51" x2="459.43" y2="189.39" stroke="#5a0a22" stroke-width="1.5"/><circle cx="459.43" cy="189.39" r="1.05" fill="#b00c3c" stroke="#4a0818" stroke-width="0.4"/><line x1="458.35" y1="185.34" x2="456.61" y2="186.85" stroke="#5a0a22" stroke-width="1.5"/><circle cx="456.61" cy="186.85" r="1.05" fill="#b00c3c" stroke="#4a0818" stroke-width="0.4"/><line x1="456.78" y1="183.13" x2="454.78" y2="184.27" stroke="#5a0a22" stroke-width="1.5"/><circle cx="454.78" cy="184.27" r="1.05" fill="#b00c3c" stroke="#4a0818" stroke-width="0.4"/><line x1="455.42" y1="179.75" x2="453.19" y2="180.31" stroke="#5a0a22" stroke-width="1.5"/><circle cx="453.19" cy="180.31" r="1.05" fill="#b00c3c" stroke="#4a0818" stroke-width="0.4"/><line x1="455.00" y1="176.54" x2="452.70" y2="176.57" stroke="#5a0a22" stroke-width="1.5"/><circle cx="452.70" cy="176.57" r="1.05" fill="#b00c3c" stroke="#4a0818" stroke-width="0.4"/><line x1="455.47" y1="172.85" x2="453.25" y2="172.25" stroke="#5a0a22" stroke-width="1.5"/><circle cx="453.25" cy="172.25" r="1.05" fill="#b00c3c" stroke="#4a0818" stroke-width="0.4"/><line x1="456.89" y1="169.49" x2="454.90" y2="168.32" stroke="#5a0a22" stroke-width="1.5"/><circle cx="454.90" cy="168.32" r="1.05" fill="#b00c3c" stroke="#4a0818" stroke-width="0.4"/><line x1="458.84" y1="166.93" x2="457.18" y2="165.33" stroke="#5a0a22" stroke-width="1.5"/><circle cx="457.18" cy="165.33" r="1.05" fill="#b00c3c" stroke="#4a0818" stroke-width="0.4"/><line x1="460.92" y1="165.17" x2="459.63" y2="163.27" stroke="#5a0a22" stroke-width="1.5"/><circle cx="459.63" cy="163.27" r="1.05" fill="#b00c3c" stroke="#4a0818" stroke-width="0.4"/><line x1="463.71" y1="163.71" x2="462.88" y2="161.56" stroke="#5a0a22" stroke-width="1.5"/><circle cx="462.88" cy="161.56" r="1.05" fill="#b00c3c" stroke="#4a0818" stroke-width="0.4"/><line x1="466.65" y1="162.94" x2="466.32" y2="160.66" stroke="#5a0a22" stroke-width="1.5"/><circle cx="466.32" cy="160.66" r="1.05" fill="#b00c3c" stroke="#4a0818" stroke-width="0.4"/><line x1="469.61" y1="162.84" x2="469.78" y2="160.54" stroke="#5a0a22" stroke-width="1.5"/><circle cx="469.78" cy="160.54" r="1.05" fill="#b00c3c" stroke="#4a0818" stroke-width="0.4"/><line x1="472.82" y1="163.47" x2="473.53" y2="161.28" stroke="#5a0a22" stroke-width="1.5"/><circle cx="473.53" cy="161.28" r="1.05" fill="#b00c3c" stroke="#4a0818" stroke-width="0.4"/><line x1="476.29" y1="165.18" x2="477.59" y2="163.28" stroke="#5a0a22" stroke-width="1.5"/><circle cx="477.59" cy="163.28" r="1.05" fill="#b00c3c" stroke="#4a0818" stroke-width="0.4"/><line x1="478.61" y1="167.20" x2="480.31" y2="165.64" stroke="#5a0a22" stroke-width="1.5"/><circle cx="480.31" cy="165.64" r="1.05" fill="#b00c3c" stroke="#4a0818" stroke-width="0.4"/><line x1="480.57" y1="169.94" x2="482.59" y2="168.84" stroke="#5a0a22" stroke-width="1.5"/><circle cx="482.59" cy="168.84" r="1.05" fill="#b00c3c" stroke="#4a0818" stroke-width="0.4"/><line x1="481.92" y1="173.67" x2="484.18" y2="173.20" stroke="#5a0a22" stroke-width="1.5"/><circle cx="484.18" cy="173.20" r="1.05" fill="#b00c3c" stroke="#4a0818" stroke-width="0.4"/><circle cx="468.6" cy="176.4" r="14.4" fill="url(#virG)" stroke="#5a0a22" stroke-width="0.7"/><ellipse cx="470.45" cy="175.19" rx="1.85" ry="1.5" fill="#e42a62" stroke="#5e0a26" stroke-width="0.65"/><ellipse cx="467.75" cy="179.74" rx="1.85" ry="1.5" fill="#e42a62" stroke="#5e0a26" stroke-width="0.65"/><ellipse cx="466.54" cy="172.58" rx="1.85" ry="1.5" fill="#e42a62" stroke="#5e0a26" stroke-width="0.65"/><ellipse cx="473.40" cy="178.07" rx="1.85" ry="1.5" fill="#e42a62" stroke="#5e0a26" stroke-width="0.65"/><ellipse cx="463.34" cy="178.67" rx="1.85" ry="1.5" fill="#e42a62" stroke="#5e0a26" stroke-width="0.65"/><ellipse cx="471.19" cy="170.64" rx="1.85" ry="1.5" fill="#e42a62" stroke="#5e0a26" stroke-width="0.65"/><ellipse cx="470.75" cy="182.90" rx="1.85" ry="1.5" fill="#e42a62" stroke="#5e0a26" stroke-width="0.65"/><ellipse cx="462.20" cy="172.82" rx="1.85" ry="1.5" fill="#e42a62" stroke="#5e0a26" stroke-width="0.65"/><ellipse cx="476.19" cy="174.61" rx="1.85" ry="1.5" fill="#e42a62" stroke="#5e0a26" stroke-width="0.65"/><ellipse cx="463.97" cy="183.21" rx="1.85" ry="1.5" fill="#e42a62" stroke="#5e0a26" stroke-width="0.65"/><ellipse cx="467.36" cy="167.84" rx="1.85" ry="1.5" fill="#e42a62" stroke="#5e0a26" stroke-width="0.65"/><ellipse cx="475.60" cy="182.12" rx="1.85" ry="1.5" fill="#e42a62" stroke="#5e0a26" stroke-width="0.65"/><ellipse cx="459.19" cy="176.93" rx="1.85" ry="1.5" fill="#e42a62" stroke="#5e0a26" stroke-width="0.65"/><ellipse cx="475.43" cy="169.39" rx="1.85" ry="1.5" fill="#e42a62" stroke="#5e0a26" stroke-width="0.65"/><ellipse cx="468.28" cy="186.53" rx="1.85" ry="1.5" fill="#e42a62" stroke="#5e0a26" stroke-width="0.65"/><ellipse cx="461.77" cy="168.46" rx="1.85" ry="1.5" fill="#e42a62" stroke="#5e0a26" stroke-width="0.65"/><ellipse cx="479.33" cy="177.68" rx="1.85" ry="1.5" fill="#e42a62" stroke="#5e0a26" stroke-width="0.65"/><ellipse cx="459.57" cy="182.89" rx="1.85" ry="1.5" fill="#e42a62" stroke="#5e0a26" stroke-width="0.65"/><ellipse cx="470.94" cy="165.21" rx="1.85" ry="1.5" fill="#e42a62" stroke="#5e0a26" stroke-width="0.65"/><ellipse cx="474.59" cy="186.49" rx="1.85" ry="1.5" fill="#e42a62" stroke="#5e0a26" stroke-width="0.65"/><ellipse cx="457.09" cy="172.92" rx="1.85" ry="1.5" fill="#e42a62" stroke="#5e0a26" stroke-width="0.65"/><ellipse cx="479.70" cy="171.07" rx="1.85" ry="1.5" fill="#e42a62" stroke="#5e0a26" stroke-width="0.65"/>
<line x1="518.80" y1="178.77" x2="521.10" y2="178.80" stroke="#5a0a22" stroke-width="1.5"/><circle cx="521.10" cy="178.80" r="1.05" fill="#b00c3c" stroke="#4a0818" stroke-width="0.4"/><line x1="518.32" y1="182.17" x2="520.54" y2="182.78" stroke="#5a0a22" stroke-width="1.5"/><circle cx="520.54" cy="182.78" r="1.05" fill="#b00c3c" stroke="#4a0818" stroke-width="0.4"/><line x1="517.05" y1="185.27" x2="519.05" y2="186.40" stroke="#5a0a22" stroke-width="1.5"/><circle cx="519.05" cy="186.40" r="1.05" fill="#b00c3c" stroke="#4a0818" stroke-width="0.4"/><line x1="514.97" y1="188.06" x2="516.62" y2="189.66" stroke="#5a0a22" stroke-width="1.5"/><circle cx="516.62" cy="189.66" r="1.05" fill="#b00c3c" stroke="#4a0818" stroke-width="0.4"/><line x1="512.65" y1="189.97" x2="513.92" y2="191.90" stroke="#5a0a22" stroke-width="1.5"/><circle cx="513.92" cy="191.90" r="1.05" fill="#b00c3c" stroke="#4a0818" stroke-width="0.4"/><line x1="509.48" y1="191.51" x2="510.21" y2="193.69" stroke="#5a0a22" stroke-width="1.5"/><circle cx="510.21" cy="193.69" r="1.05" fill="#b00c3c" stroke="#4a0818" stroke-width="0.4"/><line x1="507.47" y1="192.01" x2="507.86" y2="194.28" stroke="#5a0a22" stroke-width="1.5"/><circle cx="507.86" cy="194.28" r="1.05" fill="#b00c3c" stroke="#4a0818" stroke-width="0.4"/><line x1="503.61" y1="192.11" x2="503.34" y2="194.39" stroke="#5a0a22" stroke-width="1.5"/><circle cx="503.34" cy="194.39" r="1.05" fill="#b00c3c" stroke="#4a0818" stroke-width="0.4"/><line x1="499.82" y1="191.09" x2="498.91" y2="193.20" stroke="#5a0a22" stroke-width="1.5"/><circle cx="498.91" cy="193.20" r="1.05" fill="#b00c3c" stroke="#4a0818" stroke-width="0.4"/><line x1="497.31" y1="189.68" x2="495.97" y2="191.55" stroke="#5a0a22" stroke-width="1.5"/><circle cx="495.97" cy="191.55" r="1.05" fill="#b00c3c" stroke="#4a0818" stroke-width="0.4"/><line x1="494.67" y1="187.20" x2="492.89" y2="188.66" stroke="#5a0a22" stroke-width="1.5"/><circle cx="492.89" cy="188.66" r="1.05" fill="#b00c3c" stroke="#4a0818" stroke-width="0.4"/><line x1="493.41" y1="185.38" x2="491.42" y2="186.53" stroke="#5a0a22" stroke-width="1.5"/><circle cx="491.42" cy="186.53" r="1.05" fill="#b00c3c" stroke="#4a0818" stroke-width="0.4"/><line x1="492.01" y1="181.90" x2="489.77" y2="182.45" stroke="#5a0a22" stroke-width="1.5"/><circle cx="489.77" cy="182.45" r="1.05" fill="#b00c3c" stroke="#4a0818" stroke-width="0.4"/><line x1="491.60" y1="178.94" x2="489.31" y2="179.00" stroke="#5a0a22" stroke-width="1.5"/><circle cx="489.31" cy="179.00" r="1.05" fill="#b00c3c" stroke="#4a0818" stroke-width="0.4"/><line x1="492.01" y1="175.29" x2="489.78" y2="174.73" stroke="#5a0a22" stroke-width="1.5"/><circle cx="489.78" cy="174.73" r="1.05" fill="#b00c3c" stroke="#4a0818" stroke-width="0.4"/><line x1="493.20" y1="172.19" x2="491.18" y2="171.11" stroke="#5a0a22" stroke-width="1.5"/><circle cx="491.18" cy="171.11" r="1.05" fill="#b00c3c" stroke="#4a0818" stroke-width="0.4"/><line x1="494.59" y1="170.09" x2="492.80" y2="168.65" stroke="#5a0a22" stroke-width="1.5"/><circle cx="492.80" cy="168.65" r="1.05" fill="#b00c3c" stroke="#4a0818" stroke-width="0.4"/><line x1="497.16" y1="167.63" x2="495.80" y2="165.78" stroke="#5a0a22" stroke-width="1.5"/><circle cx="495.80" cy="165.78" r="1.05" fill="#b00c3c" stroke="#4a0818" stroke-width="0.4"/><line x1="500.10" y1="165.99" x2="499.24" y2="163.86" stroke="#5a0a22" stroke-width="1.5"/><circle cx="499.24" cy="163.86" r="1.05" fill="#b00c3c" stroke="#4a0818" stroke-width="0.4"/><line x1="504.12" y1="165.04" x2="503.94" y2="162.75" stroke="#5a0a22" stroke-width="1.5"/><circle cx="503.94" cy="162.75" r="1.05" fill="#b00c3c" stroke="#4a0818" stroke-width="0.4"/><line x1="507.20" y1="165.15" x2="507.54" y2="162.87" stroke="#5a0a22" stroke-width="1.5"/><circle cx="507.54" cy="162.87" r="1.05" fill="#b00c3c" stroke="#4a0818" stroke-width="0.4"/><line x1="509.59" y1="165.73" x2="510.33" y2="163.55" stroke="#5a0a22" stroke-width="1.5"/><circle cx="510.33" cy="163.55" r="1.05" fill="#b00c3c" stroke="#4a0818" stroke-width="0.4"/><line x1="513.25" y1="167.64" x2="514.62" y2="165.79" stroke="#5a0a22" stroke-width="1.5"/><circle cx="514.62" cy="165.79" r="1.05" fill="#b00c3c" stroke="#4a0818" stroke-width="0.4"/><line x1="515.05" y1="169.22" x2="516.71" y2="167.63" stroke="#5a0a22" stroke-width="1.5"/><circle cx="516.71" cy="167.63" r="1.05" fill="#b00c3c" stroke="#4a0818" stroke-width="0.4"/><line x1="517.32" y1="172.42" x2="519.36" y2="171.38" stroke="#5a0a22" stroke-width="1.5"/><circle cx="519.36" cy="171.38" r="1.05" fill="#b00c3c" stroke="#4a0818" stroke-width="0.4"/><line x1="518.27" y1="174.85" x2="520.49" y2="174.22" stroke="#5a0a22" stroke-width="1.5"/><circle cx="520.49" cy="174.22" r="1.05" fill="#b00c3c" stroke="#4a0818" stroke-width="0.4"/><circle cx="505.2" cy="178.6" r="14.4" fill="url(#virG)" stroke="#5a0a22" stroke-width="0.7"/><ellipse cx="503.55" cy="180.08" rx="1.85" ry="1.5" fill="#e42a62" stroke="#5e0a26" stroke-width="0.65"/><ellipse cx="505.54" cy="175.17" rx="1.85" ry="1.5" fill="#e42a62" stroke="#5e0a26" stroke-width="0.65"/><ellipse cx="507.80" cy="182.08" rx="1.85" ry="1.5" fill="#e42a62" stroke="#5e0a26" stroke-width="0.65"/><ellipse cx="500.20" cy="177.66" rx="1.85" ry="1.5" fill="#e42a62" stroke="#5e0a26" stroke-width="0.65"/><ellipse cx="510.07" cy="175.58" rx="1.85" ry="1.5" fill="#e42a62" stroke="#5e0a26" stroke-width="0.65"/><ellipse cx="503.49" cy="184.68" rx="1.85" ry="1.5" fill="#e42a62" stroke="#5e0a26" stroke-width="0.65"/><ellipse cx="502.11" cy="172.49" rx="1.85" ry="1.5" fill="#e42a62" stroke="#5e0a26" stroke-width="0.65"/><ellipse cx="512.06" cy="181.19" rx="1.85" ry="1.5" fill="#e42a62" stroke="#5e0a26" stroke-width="0.65"/><ellipse cx="497.96" cy="181.49" rx="1.85" ry="1.5" fill="#e42a62" stroke="#5e0a26" stroke-width="0.65"/><ellipse cx="508.77" cy="171.18" rx="1.85" ry="1.5" fill="#e42a62" stroke="#5e0a26" stroke-width="0.65"/><ellipse cx="507.70" cy="186.88" rx="1.85" ry="1.5" fill="#e42a62" stroke="#5e0a26" stroke-width="0.65"/><ellipse cx="497.43" cy="173.98" rx="1.85" ry="1.5" fill="#e42a62" stroke="#5e0a26" stroke-width="0.65"/><ellipse cx="514.42" cy="176.68" rx="1.85" ry="1.5" fill="#e42a62" stroke="#5e0a26" stroke-width="0.65"/><ellipse cx="499.48" cy="186.54" rx="1.85" ry="1.5" fill="#e42a62" stroke="#5e0a26" stroke-width="0.65"/><ellipse cx="504.01" cy="168.53" rx="1.85" ry="1.5" fill="#e42a62" stroke="#5e0a26" stroke-width="0.65"/><ellipse cx="513.13" cy="185.44" rx="1.85" ry="1.5" fill="#e42a62" stroke="#5e0a26" stroke-width="0.65"/><ellipse cx="494.40" cy="178.93" rx="1.85" ry="1.5" fill="#e42a62" stroke="#5e0a26" stroke-width="0.65"/><ellipse cx="513.17" cy="170.84" rx="1.85" ry="1.5" fill="#e42a62" stroke="#5e0a26" stroke-width="0.65"/><ellipse cx="504.54" cy="190.01" rx="1.85" ry="1.5" fill="#e42a62" stroke="#5e0a26" stroke-width="0.65"/><ellipse cx="497.78" cy="169.51" rx="1.85" ry="1.5" fill="#e42a62" stroke="#5e0a26" stroke-width="0.65"/><ellipse cx="517.10" cy="180.34" rx="1.85" ry="1.5" fill="#e42a62" stroke="#5e0a26" stroke-width="0.65"/><ellipse cx="495.01" cy="185.52" rx="1.85" ry="1.5" fill="#e42a62" stroke="#5e0a26" stroke-width="0.65"/>
<text x="460.40" y="133.80" font-size="12" font-weight="bold" text-anchor="end" fill="#cf1045" font-style="italic" >Single-</text>
<text x="458.40" y="147.40" font-size="12" font-weight="bold" text-anchor="end" fill="#cf1045" font-style="italic" >round</text>
<text x="503.40" y="133.80" font-size="12.3" font-weight="bold" text-anchor="start" fill="#cf1045" font-style="italic" >Infectious</text>
<text x="503.40" y="147.40" font-size="12.1" font-weight="bold" text-anchor="start" fill="#cf1045" font-style="italic" >SARS-CoV-2</text>
<path d="M513.4,157.8 C538,161.6 557,172.6 567.6,189.4 L571.6,187.0 L575.4,199.6 L561.8,193.4 L565.4,190.8 C555,175.6 538,165 513.4,157.8 Z" fill="#000"/>
<text x="486.00" y="222.40" font-size="14" font-weight="bold" text-anchor="middle" fill="#000" >Luciferase</text>
<rect x="458.0" y="245.6" width="11.2" height="70.4" fill="#0f7892"/>
<rect x="471.6" y="262.2" width="11.0" height="53.8" fill="#593c86"/>
<rect x="485.0" y="276.8" width="11.0" height="39.2" fill="#2a6cb6"/>
<rect x="498.4" y="255.6" width="11.2" height="60.4" fill="#d98ac9"/>
<rect x="455.0" y="228.4" width="57.8" height="87.8" fill="none" stroke="#000" stroke-width="1.6"/>
<text x="463.60" y="329.00" font-size="10.5" font-weight="bold" text-anchor="middle" fill="#000" >A</text>
<text x="476.80" y="329.00" font-size="10.5" font-weight="bold" text-anchor="middle" fill="#000" >B</text>
<text x="490.20" y="329.00" font-size="10.5" font-weight="bold" text-anchor="middle" fill="#000" >C</text>
<text x="504.20" y="329.00" font-size="10.5" font-weight="bold" text-anchor="middle" fill="#000" >D</text>
<path d="M575.6,260.2 C560,265.4 547,270.4 534.8,276.6 L533.0,272.8 L524.6,281.6 L536.6,283.0 L535.6,279.2 C547,273.4 560,267.4 575.6,260.2 Z" fill="#000"/>
<path d="M627.85,186.20 L628.23,187.47 L628.32,188.76 L627.98,190.00 L627.33,191.14 L626.62,192.21 L626.05,193.30 L625.64,194.46 L625.23,195.63 L624.62,196.70 L623.78,197.62 L622.80,198.39 L621.84,199.14 L620.92,199.91 L620.01,200.68 L619.05,201.39 L618.02,202.00 L616.99,202.61 L616.00,203.35 L615.03,204.25 L613.98,205.14 L612.79,205.76 L611.50,205.91 L610.18,205.66 L608.90,205.26 L607.67,204.97 L606.44,204.89 L605.18,204.89 L603.93,204.74 L602.74,204.35 L601.62,203.78 L600.53,203.18 L599.43,202.60 L598.34,202.01 L597.32,201.30 L596.42,200.43 L595.61,199.49 L594.77,198.59 L593.84,197.75 L592.90,196.89 L592.15,195.87 L591.76,194.65 L591.72,193.32 L591.83,192.00 L591.79,190.79 L591.46,189.67 L590.94,188.56 L590.44,187.41 L590.15,186.20 L590.07,184.97 L590.10,183.72 L590.14,182.47 L590.24,181.20 L590.53,179.96 L591.04,178.80 L591.72,177.73 L592.39,176.67 L592.96,175.55 L593.50,174.38 L594.18,173.29 L595.13,172.43 L596.32,171.85 L597.57,171.43 L598.70,170.94 L599.68,170.23 L600.58,169.34 L601.56,168.47 L602.67,167.84 L603.89,167.49 L605.15,167.33 L606.40,167.24 L607.66,167.23 L608.90,167.36 L610.11,167.69 L611.27,168.16 L612.40,168.58 L613.56,168.80 L614.79,168.86 L616.05,168.95 L617.23,169.30 L618.27,169.97 L619.18,170.81 L620.11,171.60 L621.16,172.22 L622.36,172.74 L623.55,173.35 L624.56,174.18 L625.31,175.24 L625.84,176.42 L626.29,177.63 L626.69,178.83 L627.00,180.05 L627.15,181.31 L627.18,182.56 L627.22,183.79 L627.45,184.98 Z" fill="url(#calG)" stroke="#3a2a2a" stroke-width="0.7" stroke-linejoin="round"/>
<circle cx="608.9" cy="186.2" r="9.5" fill="url(#calN)" stroke="#2a2020" stroke-width="0.8"/>
<path transform="translate(608.9,186.2) rotate(52)" d="M-9.00,0.57 L-8.44,1.39 L-7.88,1.37 L-7.31,0.53 L-6.75,-0.64 L-6.19,-1.42 L-5.62,-1.34 L-5.06,-0.45 L-4.50,0.71 L-3.94,1.44 L-3.38,1.30 L-2.81,0.37 L-2.25,-0.78 L-1.69,-1.46 L-1.12,-1.26 L-0.56,-0.30 L0.00,0.85 L0.56,1.48 L1.12,1.21 L1.69,0.22 L2.25,-0.91 L2.81,-1.49 L3.38,-1.17 L3.94,-0.14 L4.50,0.97 L5.06,1.50 L5.62,1.11 L6.19,0.06 L6.75,-1.03 L7.31,-1.50 L7.88,-1.06 L8.44,0.02 L9.00,1.09" fill="none" stroke="#f0144e" stroke-width="1.7" stroke-linecap="round" stroke-linejoin="round"/>
<path d="M673.56,196.50 L673.86,197.85 L673.67,199.18 L673.03,200.43 L672.19,201.56 L671.44,202.66 L670.88,203.78 L670.43,204.95 L669.91,206.09 L669.21,207.13 L668.40,208.08 L667.56,209.01 L666.75,209.95 L665.92,210.89 L664.97,211.71 L663.88,212.34 L662.74,212.86 L661.64,213.42 L660.60,214.12 L659.54,214.89 L658.39,215.51 L657.13,215.73 L655.81,215.56 L654.52,215.19 L653.30,214.93 L652.09,214.94 L650.84,215.15 L649.55,215.35 L648.25,215.35 L646.97,215.14 L645.71,214.81 L644.46,214.43 L643.22,213.95 L642.10,213.27 L641.15,212.34 L640.36,211.26 L639.60,210.20 L638.76,209.25 L637.82,208.38 L636.93,207.44 L636.31,206.31 L636.03,205.02 L635.96,203.68 L635.84,202.43 L635.48,201.28 L634.91,200.16 L634.34,199.00 L633.96,197.77 L633.85,196.50 L633.92,195.23 L634.07,193.97 L634.29,192.72 L634.67,191.51 L635.28,190.38 L636.03,189.35 L636.74,188.33 L637.24,187.23 L637.57,185.99 L637.91,184.69 L638.48,183.51 L639.37,182.57 L640.44,181.84 L641.53,181.16 L642.52,180.36 L643.45,179.43 L644.43,178.52 L645.56,177.82 L646.82,177.41 L648.14,177.23 L649.45,177.15 L650.75,177.11 L652.03,177.18 L653.30,177.44 L654.52,177.84 L655.71,178.22 L656.90,178.38 L658.18,178.31 L659.51,178.20 L660.82,178.34 L661.99,178.89 L662.97,179.76 L663.84,180.72 L664.75,181.58 L665.76,182.29 L666.81,182.99 L667.75,183.83 L668.52,184.82 L669.14,185.91 L669.74,187.01 L670.37,188.08 L670.98,189.18 L671.46,190.34 L671.78,191.55 L672.04,192.77 L672.43,193.98 L672.99,195.21 Z" fill="url(#calG)" stroke="#3a2a2a" stroke-width="0.7" stroke-linejoin="round"/>
<circle cx="653.3" cy="196.5" r="9.5" fill="url(#calN)" stroke="#2a2020" stroke-width="0.8"/>
<path transform="translate(653.3,196.5) rotate(-25)" d="M-9.00,0.57 L-8.44,1.39 L-7.88,1.37 L-7.31,0.53 L-6.75,-0.64 L-6.19,-1.42 L-5.62,-1.34 L-5.06,-0.45 L-4.50,0.71 L-3.94,1.44 L-3.38,1.30 L-2.81,0.37 L-2.25,-0.78 L-1.69,-1.46 L-1.12,-1.26 L-0.56,-0.30 L0.00,0.85 L0.56,1.48 L1.12,1.21 L1.69,0.22 L2.25,-0.91 L2.81,-1.49 L3.38,-1.17 L3.94,-0.14 L4.50,0.97 L5.06,1.50 L5.62,1.11 L6.19,0.06 L6.75,-1.03 L7.31,-1.50 L7.88,-1.06 L8.44,0.02 L9.00,1.09" fill="none" stroke="#f0144e" stroke-width="1.7" stroke-linecap="round" stroke-linejoin="round"/>
<path d="M590.20,226.40 L589.92,227.53 L589.81,228.65 L589.82,229.81 L589.76,230.97 L589.44,232.08 L588.83,233.08 L588.10,233.99 L587.47,234.93 L587.06,236.00 L586.77,237.20 L586.39,238.41 L585.78,239.48 L584.91,240.33 L583.91,241.01 L582.87,241.61 L581.81,242.18 L580.71,242.65 L579.56,242.97 L578.39,243.16 L577.25,243.38 L576.15,243.76 L575.06,244.29 L573.91,244.78 L572.70,245.00 L571.49,244.82 L570.33,244.38 L569.22,243.91 L568.09,243.61 L566.92,243.44 L565.74,243.21 L564.64,242.75 L563.68,242.02 L562.85,241.14 L562.08,240.24 L561.30,239.40 L560.53,238.57 L559.82,237.70 L559.18,236.77 L558.53,235.87 L557.73,235.04 L556.77,234.25 L555.82,233.39 L555.10,232.37 L554.79,231.20 L554.82,229.96 L554.95,228.74 L554.96,227.56 L554.79,226.40 L554.60,225.21 L554.57,224.01 L554.81,222.84 L555.24,221.72 L555.70,220.63 L556.11,219.53 L556.54,218.43 L557.07,217.37 L557.73,216.40 L558.46,215.48 L559.15,214.52 L559.79,213.49 L560.48,212.46 L561.37,211.63 L562.50,211.14 L563.79,210.98 L565.08,210.94 L566.23,210.78 L567.26,210.37 L568.26,209.82 L569.30,209.31 L570.41,209.00 L571.55,208.87 L572.70,208.80 L573.86,208.70 L575.04,208.63 L576.22,208.70 L577.37,208.97 L578.48,209.38 L579.59,209.78 L580.74,210.10 L581.92,210.42 L583.04,210.93 L583.94,211.75 L584.62,212.81 L585.17,213.93 L585.79,214.92 L586.61,215.73 L587.59,216.45 L588.53,217.26 L589.28,218.23 L589.77,219.33 L590.11,220.49 L590.39,221.66 L590.60,222.84 L590.65,224.04 L590.49,225.23 Z" fill="url(#calG)" stroke="#3a2a2a" stroke-width="0.7" stroke-linejoin="round"/>
<circle cx="572.7" cy="226.4" r="9.5" fill="url(#calN)" stroke="#2a2020" stroke-width="0.8"/>
<path transform="translate(572.7,226.4) rotate(-60)" d="M-9.00,0.57 L-8.44,1.39 L-7.88,1.37 L-7.31,0.53 L-6.75,-0.64 L-6.19,-1.42 L-5.62,-1.34 L-5.06,-0.45 L-4.50,0.71 L-3.94,1.44 L-3.38,1.30 L-2.81,0.37 L-2.25,-0.78 L-1.69,-1.46 L-1.12,-1.26 L-0.56,-0.30 L0.00,0.85 L0.56,1.48 L1.12,1.21 L1.69,0.22 L2.25,-0.91 L2.81,-1.49 L3.38,-1.17 L3.94,-0.14 L4.50,0.97 L5.06,1.50 L5.62,1.11 L6.19,0.06 L6.75,-1.03 L7.31,-1.50 L7.88,-1.06 L8.44,0.02 L9.00,1.09" fill="none" stroke="#f0144e" stroke-width="1.7" stroke-linecap="round" stroke-linejoin="round"/>
<path d="M628.86,268.20 L628.77,269.38 L628.59,270.54 L628.24,271.67 L627.74,272.74 L627.28,273.80 L627.03,274.92 L626.98,276.18 L626.93,277.51 L626.61,278.77 L625.92,279.80 L624.93,280.59 L623.84,281.24 L622.83,281.92 L621.91,282.69 L621.01,283.48 L620.03,284.19 L618.96,284.76 L617.86,285.23 L616.75,285.73 L615.63,286.24 L614.47,286.67 L613.26,286.87 L612.02,286.82 L610.80,286.68 L609.59,286.63 L608.36,286.74 L607.09,286.87 L605.83,286.75 L604.68,286.22 L603.71,285.32 L602.86,284.31 L602.02,283.41 L601.10,282.72 L600.11,282.14 L599.11,281.53 L598.19,280.81 L597.32,280.02 L596.44,279.22 L595.53,278.40 L594.69,277.50 L594.06,276.45 L593.70,275.28 L593.49,274.08 L593.24,272.91 L592.82,271.78 L592.29,270.64 L591.90,269.44 L591.86,268.20 L592.19,266.98 L592.68,265.82 L593.10,264.68 L593.30,263.51 L593.38,262.29 L593.52,261.04 L593.85,259.84 L594.37,258.71 L594.98,257.63 L595.66,256.58 L596.45,255.62 L597.43,254.83 L598.60,254.29 L599.84,253.92 L601.00,253.54 L602.01,252.97 L602.92,252.22 L603.87,251.46 L604.94,250.93 L606.12,250.72 L607.32,250.70 L608.49,250.66 L609.64,250.43 L610.80,250.08 L612.01,249.77 L613.24,249.68 L614.46,249.82 L615.65,250.10 L616.83,250.43 L617.99,250.84 L619.07,251.42 L620.02,252.23 L620.86,253.15 L621.69,254.01 L622.67,254.67 L623.82,255.18 L625.03,255.72 L626.06,256.49 L626.78,257.52 L627.21,258.72 L627.54,259.95 L627.92,261.11 L628.39,262.23 L628.81,263.37 L629.04,264.57 L629.05,265.80 L628.95,267.01 Z" fill="url(#calG)" stroke="#3a2a2a" stroke-width="0.7" stroke-linejoin="round"/>
<circle cx="610.8" cy="268.2" r="9.5" fill="url(#calN)" stroke="#2a2020" stroke-width="0.8"/>
<path transform="translate(610.8,268.2) rotate(30)" d="M-9.00,0.57 L-8.44,1.39 L-7.88,1.37 L-7.31,0.53 L-6.75,-0.64 L-6.19,-1.42 L-5.62,-1.34 L-5.06,-0.45 L-4.50,0.71 L-3.94,1.44 L-3.38,1.30 L-2.81,0.37 L-2.25,-0.78 L-1.69,-1.46 L-1.12,-1.26 L-0.56,-0.30 L0.00,0.85 L0.56,1.48 L1.12,1.21 L1.69,0.22 L2.25,-0.91 L2.81,-1.49 L3.38,-1.17 L3.94,-0.14 L4.50,0.97 L5.06,1.50 L5.62,1.11 L6.19,0.06 L6.75,-1.03 L7.31,-1.50 L7.88,-1.06 L8.44,0.02 L9.00,1.09" fill="none" stroke="#f0144e" stroke-width="1.7" stroke-linecap="round" stroke-linejoin="round"/>
<path d="M671.80,258.50 L671.70,259.73 L671.48,260.93 L671.13,262.11 L670.79,263.27 L670.57,264.46 L670.49,265.75 L670.39,267.08 L670.03,268.33 L669.28,269.38 L668.23,270.19 L667.10,270.86 L666.08,271.58 L665.20,272.41 L664.35,273.29 L663.39,274.05 L662.28,274.57 L661.09,274.91 L659.91,275.19 L658.78,275.53 L657.67,275.91 L656.53,276.23 L655.36,276.43 L654.19,276.58 L653.00,276.81 L651.78,277.18 L650.49,277.54 L649.19,277.65 L647.96,277.32 L646.86,276.59 L645.87,275.72 L644.88,274.96 L643.81,274.42 L642.64,274.00 L641.49,273.50 L640.47,272.79 L639.59,271.91 L638.78,270.97 L637.96,270.04 L637.15,269.09 L636.44,268.06 L635.92,266.93 L635.54,265.73 L635.19,264.54 L634.76,263.39 L634.30,262.22 L634.02,261.00 L634.10,259.74 L634.57,258.50 L635.18,257.33 L635.65,256.22 L635.82,255.08 L635.75,253.88 L635.70,252.63 L635.85,251.39 L636.24,250.23 L636.78,249.13 L637.36,248.05 L637.97,246.97 L638.71,245.97 L639.62,245.12 L640.64,244.41 L641.67,243.73 L642.62,242.97 L643.53,242.11 L644.52,241.30 L645.65,240.76 L646.91,240.55 L648.19,240.55 L649.42,240.50 L650.59,240.21 L651.77,239.71 L653.00,239.25 L654.27,239.05 L655.54,239.20 L656.76,239.60 L657.93,240.10 L659.07,240.63 L660.14,241.26 L661.12,242.03 L662.01,242.90 L662.87,243.74 L663.81,244.41 L664.89,244.94 L666.02,245.48 L667.01,246.21 L667.75,247.18 L668.26,248.30 L668.75,249.41 L669.40,250.41 L670.22,251.37 L671.05,252.37 L671.65,253.50 L671.93,254.73 L671.95,256.00 L671.88,257.26 Z" fill="url(#calG)" stroke="#3a2a2a" stroke-width="0.7" stroke-linejoin="round"/>
<circle cx="653.0" cy="258.5" r="9.5" fill="url(#calN)" stroke="#2a2020" stroke-width="0.8"/>
<path transform="translate(653.0,258.5) rotate(6)" d="M-9.00,0.57 L-8.44,1.39 L-7.88,1.37 L-7.31,0.53 L-6.75,-0.64 L-6.19,-1.42 L-5.62,-1.34 L-5.06,-0.45 L-4.50,0.71 L-3.94,1.44 L-3.38,1.30 L-2.81,0.37 L-2.25,-0.78 L-1.69,-1.46 L-1.12,-1.26 L-0.56,-0.30 L0.00,0.85 L0.56,1.48 L1.12,1.21 L1.69,0.22 L2.25,-0.91 L2.81,-1.49 L3.38,-1.17 L3.94,-0.14 L4.50,0.97 L5.06,1.50 L5.62,1.11 L6.19,0.06 L6.75,-1.03 L7.31,-1.50 L7.88,-1.06 L8.44,0.02 L9.00,1.09" fill="none" stroke="#f0144e" stroke-width="1.7" stroke-linecap="round" stroke-linejoin="round"/>
<text x="619.20" y="224.00" font-size="16" font-weight="bold" text-anchor="middle" fill="#000" >VAT</text>
<text x="619.20" y="240.40" font-size="16" font-weight="bold" text-anchor="middle" fill="#000" >Calu3</text>
<text x="10.40" y="361.60" font-size="21.5" font-weight="bold" text-anchor="start" fill="#000" >C</text>
<text x="152.40" y="368.60" font-size="14" font-weight="bold" text-anchor="middle" fill="#000" >Transfected BHK-21 Cells</text>
<rect x="81.4" y="496.12" width="12.80" height="52.88" fill="#038a63"/>
<rect x="97.7" y="533.41" width="12.60" height="15.59" fill="#ffb400"/>
<rect x="119.5" y="471.07" width="12.60" height="77.93" fill="#038a63"/>
<rect x="135.3" y="529.41" width="12.60" height="19.59" fill="#ffb400"/>
<rect x="157.2" y="459.38" width="12.60" height="89.62" fill="#038a63"/>
<rect x="173.3" y="515.60" width="12.50" height="33.40" fill="#ffb400"/>
<rect x="195.0" y="426.53" width="12.50" height="122.47" fill="#038a63"/>
<rect x="210.9" y="505.02" width="12.40" height="43.98" fill="#ffb400"/>
<path d="M87.60,489.44 L87.60,496.12 M84.70,489.44 L90.50,489.44" stroke="#000" stroke-width="1.2" fill="none"/>
<circle cx="87.60" cy="493.33" r="1.85" fill="#000"/><circle cx="87.60" cy="496.12" r="1.85" fill="#000"/><circle cx="87.60" cy="499.46" r="1.85" fill="#000"/>
<path d="M104.00,530.63 L104.00,533.41 M101.10,530.63 L106.90,530.63" stroke="#000" stroke-width="1.2" fill="none"/>
<circle cx="100.40" cy="535.64" r="1.85" fill="#000"/><circle cx="104.00" cy="534.25" r="1.85" fill="#000"/><circle cx="107.60" cy="533.13" r="1.85" fill="#000"/>
<path d="M125.70,464.39 L125.70,471.07 M122.80,464.39 L128.60,464.39" stroke="#000" stroke-width="1.2" fill="none"/>
<circle cx="125.70" cy="467.17" r="1.85" fill="#000"/><circle cx="125.70" cy="470.51" r="1.85" fill="#000"/><circle cx="125.70" cy="475.52" r="1.85" fill="#000"/>
<path d="M141.60,526.73 L141.60,529.41 M138.70,526.73 L144.50,526.73" stroke="#000" stroke-width="1.2" fill="none"/>
<circle cx="138.20" cy="531.47" r="1.85" fill="#000"/><circle cx="141.60" cy="530.35" r="1.85" fill="#000"/><circle cx="145.00" cy="528.96" r="1.85" fill="#000"/>
<path d="M163.40,452.14 L163.40,459.38 M160.50,452.14 L166.30,452.14" stroke="#000" stroke-width="1.2" fill="none"/>
<circle cx="163.40" cy="456.04" r="1.85" fill="#000"/><circle cx="163.40" cy="459.93" r="1.85" fill="#000"/><circle cx="163.40" cy="463.27" r="1.85" fill="#000"/>
<path d="M179.80,510.03 L179.80,515.60 M176.90,510.03 L182.70,510.03" stroke="#000" stroke-width="1.2" fill="none"/>
<circle cx="179.80" cy="513.37" r="1.85" fill="#000"/><circle cx="179.80" cy="516.71" r="1.85" fill="#000"/><circle cx="179.80" cy="519.50" r="1.85" fill="#000"/>
<path d="M201.40,404.82 L201.40,426.53 M198.50,404.82 L204.30,404.82" stroke="#000" stroke-width="1.2" fill="none"/>
<circle cx="201.40" cy="414.84" r="1.85" fill="#000"/><circle cx="201.40" cy="423.19" r="1.85" fill="#000"/><circle cx="201.40" cy="442.68" r="1.85" fill="#000"/>
<path d="M217.20,500.01 L217.20,505.02 M214.30,500.01 L220.10,500.01" stroke="#000" stroke-width="1.2" fill="none"/>
<circle cx="217.20" cy="502.24" r="1.85" fill="#000"/><circle cx="217.20" cy="504.47" r="1.85" fill="#000"/><circle cx="217.20" cy="506.69" r="1.85" fill="#000"/>
<path d="M71.3,381.0 L71.3,549.0 L231.6,549.0" fill="none" stroke="#000" stroke-width="1.5"/>
<line x1="66.3" y1="549.00" x2="71.3" y2="549.00" stroke="#000" stroke-width="1.2"/>
<text x="64.40" y="553.10" font-size="11.7" font-weight="normal" text-anchor="end" fill="#111" >0</text>
<line x1="66.3" y1="521.17" x2="71.3" y2="521.17" stroke="#000" stroke-width="1.2"/>
<text x="64.40" y="525.27" font-size="11.7" font-weight="normal" text-anchor="end" fill="#111" >50</text>
<line x1="66.3" y1="493.33" x2="71.3" y2="493.33" stroke="#000" stroke-width="1.2"/>
<text x="64.40" y="497.43" font-size="11.7" font-weight="normal" text-anchor="end" fill="#111" >100</text>
<line x1="66.3" y1="465.50" x2="71.3" y2="465.50" stroke="#000" stroke-width="1.2"/>
<text x="64.40" y="469.60" font-size="11.7" font-weight="normal" text-anchor="end" fill="#111" >150</text>
<line x1="66.3" y1="437.67" x2="71.3" y2="437.67" stroke="#000" stroke-width="1.2"/>
<text x="64.40" y="441.77" font-size="11.7" font-weight="normal" text-anchor="end" fill="#111" >200</text>
<line x1="66.3" y1="409.83" x2="71.3" y2="409.83" stroke="#000" stroke-width="1.2"/>
<text x="64.40" y="413.93" font-size="11.7" font-weight="normal" text-anchor="end" fill="#111" >250</text>
<line x1="66.3" y1="382.00" x2="71.3" y2="382.00" stroke="#000" stroke-width="1.2"/>
<text x="64.40" y="386.10" font-size="11.7" font-weight="normal" text-anchor="end" fill="#111" >300</text>
<rect x="76.8" y="378.1" width="10.6" height="8.8" fill="#038a63"/>
<rect x="76.8" y="390.0" width="10.6" height="8.8" fill="#ffb400"/>
<text x="89.20" y="386.80" font-size="11.5" font-weight="normal" text-anchor="start" fill="#111" >Delta</text>
<text x="89.20" y="399.00" font-size="11.5" font-weight="normal" text-anchor="start" fill="#111" >Omicron</text>
<text x="95.80" y="486.00" font-size="11" font-weight="normal" text-anchor="middle" fill="#111" letter-spacing="-1.0">****</text>
<text x="133.40" y="460.60" font-size="11" font-weight="normal" text-anchor="middle" fill="#111" letter-spacing="-1.0">****</text>
<text x="171.00" y="448.80" font-size="11" font-weight="normal" text-anchor="middle" fill="#111" letter-spacing="-1.0">****</text>
<text x="209.20" y="402.00" font-size="11" font-weight="normal" text-anchor="middle" fill="#111" letter-spacing="-1.0">***</text>
<path d="M80.20,550.90 Q95.95,551.10 111.70,550.90 Q95.95,553.50 80.20,550.90 Z" fill="#111"/><text x="96.15" y="563.20" font-size="11.5" font-weight="normal" text-anchor="middle" fill="#111" >0</text><path d="M118.50,550.90 Q133.90,551.10 149.30,550.90 Q133.90,553.50 118.50,550.90 Z" fill="#111"/><text x="134.10" y="563.20" font-size="11.5" font-weight="normal" text-anchor="middle" fill="#111" >100</text><path d="M156.10,550.90 Q171.65,551.10 187.20,550.90 Q171.65,553.50 156.10,550.90 Z" fill="#111"/><text x="171.85" y="563.20" font-size="11.5" font-weight="normal" text-anchor="middle" fill="#111" >300</text><path d="M194.10,550.90 Q209.30,551.10 224.50,550.90 Q209.30,553.50 194.10,550.90 Z" fill="#111"/><text x="209.50" y="563.20" font-size="11.5" font-weight="normal" text-anchor="middle" fill="#111" >1000</text><path d="M82.00,566.50 L224.00,566.30 L224.00,566.90 Z" fill="#111" stroke="#222" stroke-width="0.3"/><text x="153.40" y="580.20" font-size="13" text-anchor="middle" fill="#000"><tspan font-weight="bold">Spike D614G N501Y</tspan> (ng)</text>
<text transform="translate(40.0,466) rotate(-90)" font-size="13" text-anchor="middle" fill="#000"><tspan font-weight="bold">RLU</tspan> (x10<tspan font-size="9" dy="-4.6">4</tspan><tspan dy="4.6">)</tspan></text>
<text x="259.00" y="361.00" font-size="21.5" font-weight="bold" text-anchor="start" fill="#000" >D</text>
<text x="379.40" y="369.00" font-size="14" font-weight="bold" text-anchor="middle" fill="#000" >Infected Calu3 Cells</text>
<rect x="311.5" y="506.14" width="12.20" height="43.06" fill="#038a63"/>
<rect x="327.3" y="527.86" width="12.20" height="21.34" fill="#ffb400"/>
<rect x="349.1" y="442.89" width="12.20" height="106.31" fill="#038a63"/>
<rect x="364.9" y="510.14" width="12.20" height="39.06" fill="#ffb400"/>
<rect x="386.7" y="414.73" width="12.20" height="134.47" fill="#038a63"/>
<rect x="402.5" y="503.43" width="12.20" height="45.77" fill="#ffb400"/>
<rect x="424.4" y="392.60" width="12.50" height="156.60" fill="#038a63"/>
<rect x="440.5" y="486.51" width="12.20" height="62.69" fill="#ffb400"/>
<path d="M317.60,495.94 L317.60,506.14 M314.70,495.94 L320.50,495.94" stroke="#000" stroke-width="1.2" fill="none"/>
<circle cx="317.60" cy="497.32" r="1.85" fill="#000"/><circle cx="317.60" cy="504.18" r="1.85" fill="#000"/><circle cx="317.60" cy="514.35" r="1.85" fill="#000"/>
<path d="M333.40,522.47 L333.40,527.86 M330.50,522.47 L336.30,522.47" stroke="#000" stroke-width="1.2" fill="none"/>
<circle cx="333.40" cy="526.87" r="1.85" fill="#000"/><circle cx="333.40" cy="530.52" r="1.85" fill="#000"/>
<path d="M355.20,438.29 L355.20,442.89 M352.30,438.29 L358.10,438.29" stroke="#000" stroke-width="1.2" fill="none"/>
<circle cx="355.20" cy="439.55" r="1.85" fill="#000"/><circle cx="355.20" cy="442.01" r="1.85" fill="#000"/><circle cx="355.20" cy="444.43" r="1.85" fill="#000"/>
<path d="M371.00,506.97 L371.00,510.14 M368.10,506.97 L373.90,506.97" stroke="#000" stroke-width="1.2" fill="none"/>
<circle cx="367.60" cy="511.12" r="1.85" fill="#000"/><circle cx="371.00" cy="508.28" r="1.85" fill="#000"/><circle cx="374.40" cy="510.63" r="1.85" fill="#000"/>
<path d="M392.80,411.27 L392.80,414.73 M389.90,411.27 L395.70,411.27" stroke="#000" stroke-width="1.2" fill="none"/>
<circle cx="392.80" cy="412.51" r="1.85" fill="#000"/><circle cx="392.80" cy="414.27" r="1.85" fill="#000"/><circle cx="392.80" cy="416.16" r="1.85" fill="#000"/>
<path d="M408.60,499.40 L408.60,503.43 M405.70,499.40 L411.50,499.40" stroke="#000" stroke-width="1.2" fill="none"/>
<circle cx="405.20" cy="504.18" r="1.85" fill="#000"/><circle cx="408.60" cy="502.01" r="1.85" fill="#000"/><circle cx="412.00" cy="504.94" r="1.85" fill="#000"/>
<path d="M430.60,391.87 L430.60,392.60 M427.70,391.87 L433.50,391.87" stroke="#000" stroke-width="1.2" fill="none"/>
<circle cx="427.40" cy="392.42" r="1.85" fill="#000"/><circle cx="430.60" cy="392.42" r="1.85" fill="#000"/><circle cx="433.80" cy="392.42" r="1.85" fill="#000"/>
<path d="M446.60,480.59 L446.60,486.51 M443.70,480.59 L449.50,480.59" stroke="#000" stroke-width="1.2" fill="none"/>
<circle cx="446.60" cy="482.82" r="1.85" fill="#000"/><circle cx="446.60" cy="486.15" r="1.85" fill="#000"/><circle cx="446.60" cy="491.54" r="1.85" fill="#000"/>
<path d="M300.5,381.4 L300.5,549.2 L461.6,549.2" fill="none" stroke="#000" stroke-width="1.5"/>
<line x1="294.9" y1="549.00" x2="300.5" y2="549.00" stroke="#000" stroke-width="1.2"/>
<text x="294.50" y="553.80" font-size="11.5" font-weight="normal" text-anchor="end" fill="#000">10<tspan font-size="8.74" dx="0.2" dy="-5.06">2</tspan></text>
<line x1="296.8" y1="532.26" x2="300.5" y2="532.26" stroke="#000" stroke-width="1.0"/>
<line x1="296.8" y1="522.47" x2="300.5" y2="522.47" stroke="#000" stroke-width="1.0"/>
<line x1="296.8" y1="515.53" x2="300.5" y2="515.53" stroke="#000" stroke-width="1.0"/>
<line x1="296.8" y1="510.14" x2="300.5" y2="510.14" stroke="#000" stroke-width="1.0"/>
<line x1="296.8" y1="505.73" x2="300.5" y2="505.73" stroke="#000" stroke-width="1.0"/>
<line x1="296.8" y1="502.01" x2="300.5" y2="502.01" stroke="#000" stroke-width="1.0"/>
<line x1="296.8" y1="498.79" x2="300.5" y2="498.79" stroke="#000" stroke-width="1.0"/>
<line x1="296.8" y1="495.94" x2="300.5" y2="495.94" stroke="#000" stroke-width="1.0"/>
<line x1="294.9" y1="493.40" x2="300.5" y2="493.40" stroke="#000" stroke-width="1.2"/>
<text x="294.50" y="498.20" font-size="11.5" font-weight="normal" text-anchor="end" fill="#000">10<tspan font-size="8.74" dx="0.2" dy="-5.06">3</tspan></text>
<line x1="296.8" y1="476.66" x2="300.5" y2="476.66" stroke="#000" stroke-width="1.0"/>
<line x1="296.8" y1="466.87" x2="300.5" y2="466.87" stroke="#000" stroke-width="1.0"/>
<line x1="296.8" y1="459.93" x2="300.5" y2="459.93" stroke="#000" stroke-width="1.0"/>
<line x1="296.8" y1="454.54" x2="300.5" y2="454.54" stroke="#000" stroke-width="1.0"/>
<line x1="296.8" y1="450.13" x2="300.5" y2="450.13" stroke="#000" stroke-width="1.0"/>
<line x1="296.8" y1="446.41" x2="300.5" y2="446.41" stroke="#000" stroke-width="1.0"/>
<line x1="296.8" y1="443.19" x2="300.5" y2="443.19" stroke="#000" stroke-width="1.0"/>
<line x1="296.8" y1="440.34" x2="300.5" y2="440.34" stroke="#000" stroke-width="1.0"/>
<line x1="294.9" y1="437.80" x2="300.5" y2="437.80" stroke="#000" stroke-width="1.2"/>
<text x="294.50" y="442.60" font-size="11.5" font-weight="normal" text-anchor="end" fill="#000">10<tspan font-size="8.74" dx="0.2" dy="-5.06">4</tspan></text>
<line x1="296.8" y1="421.06" x2="300.5" y2="421.06" stroke="#000" stroke-width="1.0"/>
<line x1="296.8" y1="411.27" x2="300.5" y2="411.27" stroke="#000" stroke-width="1.0"/>
<line x1="296.8" y1="404.33" x2="300.5" y2="404.33" stroke="#000" stroke-width="1.0"/>
<line x1="296.8" y1="398.94" x2="300.5" y2="398.94" stroke="#000" stroke-width="1.0"/>
<line x1="296.8" y1="394.53" x2="300.5" y2="394.53" stroke="#000" stroke-width="1.0"/>
<line x1="296.8" y1="390.81" x2="300.5" y2="390.81" stroke="#000" stroke-width="1.0"/>
<line x1="296.8" y1="387.59" x2="300.5" y2="387.59" stroke="#000" stroke-width="1.0"/>
<line x1="296.8" y1="384.74" x2="300.5" y2="384.74" stroke="#000" stroke-width="1.0"/>
<line x1="294.9" y1="382.20" x2="300.5" y2="382.20" stroke="#000" stroke-width="1.2"/>
<text x="294.50" y="387.00" font-size="11.5" font-weight="normal" text-anchor="end" fill="#000">10<tspan font-size="8.74" dx="0.2" dy="-5.06">5</tspan></text>
<rect x="306.2" y="378.1" width="10.6" height="8.8" fill="#038a63"/>
<rect x="306.2" y="390.0" width="10.6" height="8.8" fill="#ffb400"/>
<text x="318.40" y="386.80" font-size="11.5" font-weight="normal" text-anchor="start" fill="#111" >Delta</text>
<text x="318.40" y="399.00" font-size="11.5" font-weight="normal" text-anchor="start" fill="#111" >Omicron</text>
<text x="325.60" y="491.40" font-size="11" font-weight="normal" text-anchor="middle" fill="#111" letter-spacing="-1.0">*</text>
<text x="363.00" y="437.00" font-size="11" font-weight="normal" text-anchor="middle" fill="#111" letter-spacing="-1.0">****</text>
<text x="400.60" y="408.80" font-size="11" font-weight="normal" text-anchor="middle" fill="#111" letter-spacing="-1.0">****</text>
<text x="438.20" y="387.60" font-size="11" font-weight="normal" text-anchor="middle" fill="#111" letter-spacing="-1.0">****</text>
<path d="M310.70,550.90 Q325.60,551.10 340.50,550.90 Q325.60,553.50 310.70,550.90 Z" fill="#111"/><text x="325.80" y="563.20" font-size="11.5" font-weight="normal" text-anchor="middle" fill="#111" >0</text><path d="M348.30,550.90 Q363.20,551.10 378.10,550.90 Q363.20,553.50 348.30,550.90 Z" fill="#111"/><text x="363.40" y="563.20" font-size="11.5" font-weight="normal" text-anchor="middle" fill="#111" >100</text><path d="M385.90,550.90 Q400.80,551.10 415.70,550.90 Q400.80,553.50 385.90,550.90 Z" fill="#111"/><text x="401.00" y="563.20" font-size="11.5" font-weight="normal" text-anchor="middle" fill="#111" >300</text><path d="M423.60,550.90 Q438.65,551.10 453.70,550.90 Q438.65,553.50 423.60,550.90 Z" fill="#111"/><text x="438.85" y="563.20" font-size="11.5" font-weight="normal" text-anchor="middle" fill="#111" >1000</text><path d="M312.50,566.50 L453.40,566.30 L453.40,566.90 Z" fill="#111" stroke="#222" stroke-width="0.3"/><text x="381.20" y="580.20" font-size="13" text-anchor="middle" fill="#000"><tspan font-weight="bold">Spike D614G N501Y</tspan> (ng)</text>
<text transform="translate(274.20,466.00) rotate(-90)" font-size="13" font-weight="bold" text-anchor="middle" fill="#000">RLU</text>
<text x="572.60" y="354.00" font-size="14" font-weight="bold" text-anchor="middle" fill="#000" >Infected Vero</text>
<text x="572.60" y="369.00" font-size="14" font-weight="bold" text-anchor="middle" fill="#000" >ACE2 TMPRSS2 Cells</text>
<rect x="503.0" y="521.56" width="12.40" height="27.64" fill="#038a63"/>
<rect x="518.8" y="527.46" width="12.40" height="21.74" fill="#ffb400"/>
<rect x="541.0" y="439.23" width="12.20" height="109.97" fill="#038a63"/>
<rect x="556.7" y="481.90" width="12.20" height="67.30" fill="#ffb400"/>
<rect x="578.6" y="417.79" width="12.20" height="131.41" fill="#038a63"/>
<rect x="594.4" y="479.76" width="12.10" height="69.44" fill="#ffb400"/>
<rect x="616.2" y="396.06" width="12.40" height="153.14" fill="#038a63"/>
<rect x="632.0" y="456.99" width="12.40" height="92.21" fill="#ffb400"/>
<path d="M509.20,514.81 L509.20,521.56 M506.30,514.81 L512.10,514.81" stroke="#000" stroke-width="1.2" fill="none"/>
<circle cx="509.20" cy="516.27" r="1.85" fill="#000"/><circle cx="509.20" cy="522.47" r="1.85" fill="#000"/><circle cx="509.20" cy="525.03" r="1.85" fill="#000"/>
<path d="M525.00,525.03 L525.00,527.46 M522.10,525.03 L527.90,525.03" stroke="#000" stroke-width="1.2" fill="none"/>
<circle cx="521.80" cy="528.84" r="1.85" fill="#000"/><circle cx="525.00" cy="526.19" r="1.85" fill="#000"/><circle cx="528.00" cy="527.79" r="1.85" fill="#000"/>
<path d="M547.20,435.53 L547.20,439.23 M544.30,435.53 L550.10,435.53" stroke="#000" stroke-width="1.2" fill="none"/>
<circle cx="544.00" cy="441.28" r="1.85" fill="#000"/><circle cx="547.20" cy="437.10" r="1.85" fill="#000"/><circle cx="550.40" cy="438.85" r="1.85" fill="#000"/>
<path d="M562.80,477.68 L562.80,481.90 M559.90,477.68 L565.70,477.68" stroke="#000" stroke-width="1.2" fill="none"/>
<circle cx="559.60" cy="484.93" r="1.85" fill="#000"/><circle cx="562.80" cy="480.01" r="1.85" fill="#000"/><circle cx="566.00" cy="483.10" r="1.85" fill="#000"/>
<path d="M584.80,416.45 L584.80,417.79 M581.90,416.45 L587.70,416.45" stroke="#000" stroke-width="1.2" fill="none"/>
<circle cx="581.60" cy="418.32" r="1.85" fill="#000"/><circle cx="584.80" cy="417.27" r="1.85" fill="#000"/><circle cx="588.00" cy="417.97" r="1.85" fill="#000"/>
<path d="M600.40,477.36 L600.40,479.76 M597.50,477.36 L603.30,477.36" stroke="#000" stroke-width="1.2" fill="none"/>
<circle cx="597.20" cy="481.33" r="1.85" fill="#000"/><circle cx="600.40" cy="478.80" r="1.85" fill="#000"/><circle cx="603.60" cy="479.63" r="1.85" fill="#000"/>
<path d="M622.40,391.11 L622.40,396.06 M619.50,391.11 L625.30,391.11" stroke="#000" stroke-width="1.2" fill="none"/>
<circle cx="622.40" cy="393.54" r="1.85" fill="#000"/><circle cx="622.40" cy="397.29" r="1.85" fill="#000"/><circle cx="622.40" cy="399.11" r="1.85" fill="#000"/>
<path d="M638.20,454.38 L638.20,456.99 M635.30,454.38 L641.10,454.38" stroke="#000" stroke-width="1.2" fill="none"/>
<circle cx="635.00" cy="457.79" r="1.85" fill="#000"/><circle cx="638.20" cy="455.99" r="1.85" fill="#000"/><circle cx="641.40" cy="455.51" r="1.85" fill="#000"/>
<path d="M492.6,380.8 L492.6,549.2 L653.2,549.2" fill="none" stroke="#000" stroke-width="1.5"/>
<line x1="487.0" y1="549.00" x2="492.6" y2="549.00" stroke="#000" stroke-width="1.2"/>
<text x="486.60" y="553.80" font-size="11.5" font-weight="normal" text-anchor="end" fill="#000">10<tspan font-size="8.74" dx="0.2" dy="-5.06">1</tspan></text>
<line x1="488.90000000000003" y1="538.92" x2="492.6" y2="538.92" stroke="#000" stroke-width="1.0"/>
<line x1="488.90000000000003" y1="533.03" x2="492.6" y2="533.03" stroke="#000" stroke-width="1.0"/>
<line x1="488.90000000000003" y1="528.84" x2="492.6" y2="528.84" stroke="#000" stroke-width="1.0"/>
<line x1="488.90000000000003" y1="525.60" x2="492.6" y2="525.60" stroke="#000" stroke-width="1.0"/>
<line x1="488.90000000000003" y1="522.95" x2="492.6" y2="522.95" stroke="#000" stroke-width="1.0"/>
<line x1="488.90000000000003" y1="520.71" x2="492.6" y2="520.71" stroke="#000" stroke-width="1.0"/>
<line x1="488.90000000000003" y1="518.76" x2="492.6" y2="518.76" stroke="#000" stroke-width="1.0"/>
<line x1="488.90000000000003" y1="517.05" x2="492.6" y2="517.05" stroke="#000" stroke-width="1.0"/>
<line x1="487.0" y1="515.52" x2="492.6" y2="515.52" stroke="#000" stroke-width="1.2"/>
<text x="486.60" y="520.32" font-size="11.5" font-weight="normal" text-anchor="end" fill="#000">10<tspan font-size="8.74" dx="0.2" dy="-5.06">2</tspan></text>
<line x1="488.90000000000003" y1="505.44" x2="492.6" y2="505.44" stroke="#000" stroke-width="1.0"/>
<line x1="488.90000000000003" y1="499.55" x2="492.6" y2="499.55" stroke="#000" stroke-width="1.0"/>
<line x1="488.90000000000003" y1="495.36" x2="492.6" y2="495.36" stroke="#000" stroke-width="1.0"/>
<line x1="488.90000000000003" y1="492.12" x2="492.6" y2="492.12" stroke="#000" stroke-width="1.0"/>
<line x1="488.90000000000003" y1="489.47" x2="492.6" y2="489.47" stroke="#000" stroke-width="1.0"/>
<line x1="488.90000000000003" y1="487.23" x2="492.6" y2="487.23" stroke="#000" stroke-width="1.0"/>
<line x1="488.90000000000003" y1="485.28" x2="492.6" y2="485.28" stroke="#000" stroke-width="1.0"/>
<line x1="488.90000000000003" y1="483.57" x2="492.6" y2="483.57" stroke="#000" stroke-width="1.0"/>
<line x1="487.0" y1="482.04" x2="492.6" y2="482.04" stroke="#000" stroke-width="1.2"/>
<text x="486.60" y="486.84" font-size="11.5" font-weight="normal" text-anchor="end" fill="#000">10<tspan font-size="8.74" dx="0.2" dy="-5.06">3</tspan></text>
<line x1="488.90000000000003" y1="471.96" x2="492.6" y2="471.96" stroke="#000" stroke-width="1.0"/>
<line x1="488.90000000000003" y1="466.07" x2="492.6" y2="466.07" stroke="#000" stroke-width="1.0"/>
<line x1="488.90000000000003" y1="461.88" x2="492.6" y2="461.88" stroke="#000" stroke-width="1.0"/>
<line x1="488.90000000000003" y1="458.64" x2="492.6" y2="458.64" stroke="#000" stroke-width="1.0"/>
<line x1="488.90000000000003" y1="455.99" x2="492.6" y2="455.99" stroke="#000" stroke-width="1.0"/>
<line x1="488.90000000000003" y1="453.75" x2="492.6" y2="453.75" stroke="#000" stroke-width="1.0"/>
<line x1="488.90000000000003" y1="451.80" x2="492.6" y2="451.80" stroke="#000" stroke-width="1.0"/>
<line x1="488.90000000000003" y1="450.09" x2="492.6" y2="450.09" stroke="#000" stroke-width="1.0"/>
<line x1="487.0" y1="448.56" x2="492.6" y2="448.56" stroke="#000" stroke-width="1.2"/>
<text x="486.60" y="453.36" font-size="11.5" font-weight="normal" text-anchor="end" fill="#000">10<tspan font-size="8.74" dx="0.2" dy="-5.06">4</tspan></text>
<line x1="488.90000000000003" y1="438.48" x2="492.6" y2="438.48" stroke="#000" stroke-width="1.0"/>
<line x1="488.90000000000003" y1="432.59" x2="492.6" y2="432.59" stroke="#000" stroke-width="1.0"/>
<line x1="488.90000000000003" y1="428.40" x2="492.6" y2="428.40" stroke="#000" stroke-width="1.0"/>
<line x1="488.90000000000003" y1="425.16" x2="492.6" y2="425.16" stroke="#000" stroke-width="1.0"/>
<line x1="488.90000000000003" y1="422.51" x2="492.6" y2="422.51" stroke="#000" stroke-width="1.0"/>
<line x1="488.90000000000003" y1="420.27" x2="492.6" y2="420.27" stroke="#000" stroke-width="1.0"/>
<line x1="488.90000000000003" y1="418.32" x2="492.6" y2="418.32" stroke="#000" stroke-width="1.0"/>
<line x1="488.90000000000003" y1="416.61" x2="492.6" y2="416.61" stroke="#000" stroke-width="1.0"/>
<line x1="487.0" y1="415.08" x2="492.6" y2="415.08" stroke="#000" stroke-width="1.2"/>
<text x="486.60" y="419.88" font-size="11.5" font-weight="normal" text-anchor="end" fill="#000">10<tspan font-size="8.74" dx="0.2" dy="-5.06">5</tspan></text>
<line x1="488.90000000000003" y1="405.00" x2="492.6" y2="405.00" stroke="#000" stroke-width="1.0"/>
<line x1="488.90000000000003" y1="399.11" x2="492.6" y2="399.11" stroke="#000" stroke-width="1.0"/>
<line x1="488.90000000000003" y1="394.92" x2="492.6" y2="394.92" stroke="#000" stroke-width="1.0"/>
<line x1="488.90000000000003" y1="391.68" x2="492.6" y2="391.68" stroke="#000" stroke-width="1.0"/>
<line x1="488.90000000000003" y1="389.03" x2="492.6" y2="389.03" stroke="#000" stroke-width="1.0"/>
<line x1="488.90000000000003" y1="386.79" x2="492.6" y2="386.79" stroke="#000" stroke-width="1.0"/>
<line x1="488.90000000000003" y1="384.84" x2="492.6" y2="384.84" stroke="#000" stroke-width="1.0"/>
<line x1="488.90000000000003" y1="383.13" x2="492.6" y2="383.13" stroke="#000" stroke-width="1.0"/>
<line x1="487.0" y1="381.60" x2="492.6" y2="381.60" stroke="#000" stroke-width="1.2"/>
<text x="486.60" y="386.40" font-size="11.5" font-weight="normal" text-anchor="end" fill="#000">10<tspan font-size="8.74" dx="0.2" dy="-5.06">6</tspan></text>
<text x="555.20" y="430.60" font-size="11" font-weight="normal" text-anchor="middle" fill="#111" letter-spacing="-1.0">***</text>
<text x="592.80" y="408.80" font-size="11" font-weight="normal" text-anchor="middle" fill="#111" letter-spacing="-1.0">****</text>
<text x="631.00" y="386.00" font-size="11" font-weight="normal" text-anchor="middle" fill="#111" letter-spacing="-1.0">**</text>
<path d="M502.20,550.90 Q517.20,551.10 532.20,550.90 Q517.20,553.50 502.20,550.90 Z" fill="#111"/><text x="517.40" y="563.20" font-size="11.5" font-weight="normal" text-anchor="middle" fill="#111" >0</text><path d="M540.20,550.90 Q555.05,551.10 569.90,550.90 Q555.05,553.50 540.20,550.90 Z" fill="#111"/><text x="555.25" y="563.20" font-size="11.5" font-weight="normal" text-anchor="middle" fill="#111" >100</text><path d="M577.80,550.90 Q592.65,551.10 607.50,550.90 Q592.65,553.50 577.80,550.90 Z" fill="#111"/><text x="592.85" y="563.20" font-size="11.5" font-weight="normal" text-anchor="middle" fill="#111" >300</text><path d="M615.40,550.90 Q630.40,551.10 645.40,550.90 Q630.40,553.50 615.40,550.90 Z" fill="#111"/><text x="630.60" y="563.20" font-size="11.5" font-weight="normal" text-anchor="middle" fill="#111" >1000</text><path d="M503.90,566.50 L645.00,566.30 L645.00,566.90 Z" fill="#111" stroke="#222" stroke-width="0.3"/><text x="574.40" y="580.20" font-size="13" text-anchor="middle" fill="#000"><tspan font-weight="bold">Spike D614G N501Y</tspan> (ng)</text>
<text x="10.40" y="622.20" font-size="21.5" font-weight="bold" text-anchor="start" fill="#000" >E</text>
<text x="146.50" y="622.90" font-size="15.5" font-weight="bold" text-anchor="middle" fill="#000" >Infected Calu3 cells</text>
<path d="M77.2,642.6 L77.2,781.4 L216.6,781.4" fill="none" stroke="#000" stroke-width="1.9"/>
<line x1="70.8" y1="781.40" x2="77.2" y2="781.40" stroke="#000" stroke-width="1.4"/>
<text x="69.80" y="785.60" font-size="11.2" font-weight="bold" text-anchor="end" fill="#000">10<tspan font-size="8.06" dx="0.6" dy="-4.70">1</tspan></text>
<line x1="73.0" y1="773.10" x2="77.2" y2="773.10" stroke="#000" stroke-width="1.35"/>
<line x1="73.0" y1="768.25" x2="77.2" y2="768.25" stroke="#000" stroke-width="1.35"/>
<line x1="73.0" y1="764.81" x2="77.2" y2="764.81" stroke="#000" stroke-width="1.35"/>
<line x1="73.0" y1="762.14" x2="77.2" y2="762.14" stroke="#000" stroke-width="1.35"/>
<line x1="73.0" y1="759.95" x2="77.2" y2="759.95" stroke="#000" stroke-width="1.35"/>
<line x1="73.0" y1="758.11" x2="77.2" y2="758.11" stroke="#000" stroke-width="1.35"/>
<line x1="73.0" y1="756.51" x2="77.2" y2="756.51" stroke="#000" stroke-width="1.35"/>
<line x1="73.0" y1="755.10" x2="77.2" y2="755.10" stroke="#000" stroke-width="1.35"/>
<line x1="70.8" y1="753.84" x2="77.2" y2="753.84" stroke="#000" stroke-width="1.4"/>
<text x="69.80" y="758.04" font-size="11.2" font-weight="bold" text-anchor="end" fill="#000">10<tspan font-size="8.06" dx="0.6" dy="-4.70">2</tspan></text>
<line x1="73.0" y1="745.54" x2="77.2" y2="745.54" stroke="#000" stroke-width="1.35"/>
<line x1="73.0" y1="740.69" x2="77.2" y2="740.69" stroke="#000" stroke-width="1.35"/>
<line x1="73.0" y1="737.25" x2="77.2" y2="737.25" stroke="#000" stroke-width="1.35"/>
<line x1="73.0" y1="734.58" x2="77.2" y2="734.58" stroke="#000" stroke-width="1.35"/>
<line x1="73.0" y1="732.39" x2="77.2" y2="732.39" stroke="#000" stroke-width="1.35"/>
<line x1="73.0" y1="730.55" x2="77.2" y2="730.55" stroke="#000" stroke-width="1.35"/>
<line x1="73.0" y1="728.95" x2="77.2" y2="728.95" stroke="#000" stroke-width="1.35"/>
<line x1="73.0" y1="727.54" x2="77.2" y2="727.54" stroke="#000" stroke-width="1.35"/>
<line x1="70.8" y1="726.28" x2="77.2" y2="726.28" stroke="#000" stroke-width="1.4"/>
<text x="69.80" y="730.48" font-size="11.2" font-weight="bold" text-anchor="end" fill="#000">10<tspan font-size="8.06" dx="0.6" dy="-4.70">3</tspan></text>
<line x1="73.0" y1="717.98" x2="77.2" y2="717.98" stroke="#000" stroke-width="1.35"/>
<line x1="73.0" y1="713.13" x2="77.2" y2="713.13" stroke="#000" stroke-width="1.35"/>
<line x1="73.0" y1="709.69" x2="77.2" y2="709.69" stroke="#000" stroke-width="1.35"/>
<line x1="73.0" y1="707.02" x2="77.2" y2="707.02" stroke="#000" stroke-width="1.35"/>
<line x1="73.0" y1="704.83" x2="77.2" y2="704.83" stroke="#000" stroke-width="1.35"/>
<line x1="73.0" y1="702.99" x2="77.2" y2="702.99" stroke="#000" stroke-width="1.35"/>
<line x1="73.0" y1="701.39" x2="77.2" y2="701.39" stroke="#000" stroke-width="1.35"/>
<line x1="73.0" y1="699.98" x2="77.2" y2="699.98" stroke="#000" stroke-width="1.35"/>
<line x1="70.8" y1="698.72" x2="77.2" y2="698.72" stroke="#000" stroke-width="1.4"/>
<text x="69.80" y="702.92" font-size="11.2" font-weight="bold" text-anchor="end" fill="#000">10<tspan font-size="8.06" dx="0.6" dy="-4.70">4</tspan></text>
<line x1="73.0" y1="690.42" x2="77.2" y2="690.42" stroke="#000" stroke-width="1.35"/>
<line x1="73.0" y1="685.57" x2="77.2" y2="685.57" stroke="#000" stroke-width="1.35"/>
<line x1="73.0" y1="682.13" x2="77.2" y2="682.13" stroke="#000" stroke-width="1.35"/>
<line x1="73.0" y1="679.46" x2="77.2" y2="679.46" stroke="#000" stroke-width="1.35"/>
<line x1="73.0" y1="677.27" x2="77.2" y2="677.27" stroke="#000" stroke-width="1.35"/>
<line x1="73.0" y1="675.43" x2="77.2" y2="675.43" stroke="#000" stroke-width="1.35"/>
<line x1="73.0" y1="673.83" x2="77.2" y2="673.83" stroke="#000" stroke-width="1.35"/>
<line x1="73.0" y1="672.42" x2="77.2" y2="672.42" stroke="#000" stroke-width="1.35"/>
<line x1="70.8" y1="671.16" x2="77.2" y2="671.16" stroke="#000" stroke-width="1.4"/>
<text x="69.80" y="675.36" font-size="11.2" font-weight="bold" text-anchor="end" fill="#000">10<tspan font-size="8.06" dx="0.6" dy="-4.70">5</tspan></text>
<line x1="73.0" y1="662.86" x2="77.2" y2="662.86" stroke="#000" stroke-width="1.35"/>
<line x1="73.0" y1="658.01" x2="77.2" y2="658.01" stroke="#000" stroke-width="1.35"/>
<line x1="73.0" y1="654.57" x2="77.2" y2="654.57" stroke="#000" stroke-width="1.35"/>
<line x1="73.0" y1="651.90" x2="77.2" y2="651.90" stroke="#000" stroke-width="1.35"/>
<line x1="73.0" y1="649.71" x2="77.2" y2="649.71" stroke="#000" stroke-width="1.35"/>
<line x1="73.0" y1="647.87" x2="77.2" y2="647.87" stroke="#000" stroke-width="1.35"/>
<line x1="73.0" y1="646.27" x2="77.2" y2="646.27" stroke="#000" stroke-width="1.35"/>
<line x1="73.0" y1="644.86" x2="77.2" y2="644.86" stroke="#000" stroke-width="1.35"/>
<line x1="70.8" y1="643.60" x2="77.2" y2="643.60" stroke="#000" stroke-width="1.4"/>
<text x="69.80" y="647.80" font-size="11.2" font-weight="bold" text-anchor="end" fill="#000">10<tspan font-size="8.06" dx="0.6" dy="-4.70">6</tspan></text>
<line x1="77.80" y1="781.4" x2="77.80" y2="786.8" stroke="#000" stroke-width="1.4"/>
<text x="78.20" y="799.20" font-size="11.2" font-weight="bold" text-anchor="middle" fill="#000">10<tspan font-size="8.06" dx="0.6" dy="-4.70">1</tspan></text>
<line x1="84.72" y1="781.4" x2="84.72" y2="784.6" stroke="#000" stroke-width="1.25"/>
<line x1="88.77" y1="781.4" x2="88.77" y2="784.6" stroke="#000" stroke-width="1.25"/>
<line x1="91.65" y1="781.4" x2="91.65" y2="784.6" stroke="#000" stroke-width="1.25"/>
<line x1="93.88" y1="781.4" x2="93.88" y2="784.6" stroke="#000" stroke-width="1.25"/>
<line x1="95.70" y1="781.4" x2="95.70" y2="784.6" stroke="#000" stroke-width="1.25"/>
<line x1="97.24" y1="781.4" x2="97.24" y2="784.6" stroke="#000" stroke-width="1.25"/>
<line x1="98.57" y1="781.4" x2="98.57" y2="784.6" stroke="#000" stroke-width="1.25"/>
<line x1="99.75" y1="781.4" x2="99.75" y2="784.6" stroke="#000" stroke-width="1.25"/>
<line x1="100.80" y1="781.4" x2="100.80" y2="786.8" stroke="#000" stroke-width="1.4"/>
<text x="101.20" y="799.20" font-size="11.2" font-weight="bold" text-anchor="middle" fill="#000">10<tspan font-size="8.06" dx="0.6" dy="-4.70">2</tspan></text>
<line x1="107.72" y1="781.4" x2="107.72" y2="784.6" stroke="#000" stroke-width="1.25"/>
<line x1="111.77" y1="781.4" x2="111.77" y2="784.6" stroke="#000" stroke-width="1.25"/>
<line x1="114.65" y1="781.4" x2="114.65" y2="784.6" stroke="#000" stroke-width="1.25"/>
<line x1="116.88" y1="781.4" x2="116.88" y2="784.6" stroke="#000" stroke-width="1.25"/>
<line x1="118.70" y1="781.4" x2="118.70" y2="784.6" stroke="#000" stroke-width="1.25"/>
<line x1="120.24" y1="781.4" x2="120.24" y2="784.6" stroke="#000" stroke-width="1.25"/>
<line x1="121.57" y1="781.4" x2="121.57" y2="784.6" stroke="#000" stroke-width="1.25"/>
<line x1="122.75" y1="781.4" x2="122.75" y2="784.6" stroke="#000" stroke-width="1.25"/>
<line x1="123.80" y1="781.4" x2="123.80" y2="786.8" stroke="#000" stroke-width="1.4"/>
<text x="124.20" y="799.20" font-size="11.2" font-weight="bold" text-anchor="middle" fill="#000">10<tspan font-size="8.06" dx="0.6" dy="-4.70">3</tspan></text>
<line x1="130.72" y1="781.4" x2="130.72" y2="784.6" stroke="#000" stroke-width="1.25"/>
<line x1="134.77" y1="781.4" x2="134.77" y2="784.6" stroke="#000" stroke-width="1.25"/>
<line x1="137.65" y1="781.4" x2="137.65" y2="784.6" stroke="#000" stroke-width="1.25"/>
<line x1="139.88" y1="781.4" x2="139.88" y2="784.6" stroke="#000" stroke-width="1.25"/>
<line x1="141.70" y1="781.4" x2="141.70" y2="784.6" stroke="#000" stroke-width="1.25"/>
<line x1="143.24" y1="781.4" x2="143.24" y2="784.6" stroke="#000" stroke-width="1.25"/>
<line x1="144.57" y1="781.4" x2="144.57" y2="784.6" stroke="#000" stroke-width="1.25"/>
<line x1="145.75" y1="781.4" x2="145.75" y2="784.6" stroke="#000" stroke-width="1.25"/>
<line x1="146.80" y1="781.4" x2="146.80" y2="786.8" stroke="#000" stroke-width="1.4"/>
<text x="147.20" y="799.20" font-size="11.2" font-weight="bold" text-anchor="middle" fill="#000">10<tspan font-size="8.06" dx="0.6" dy="-4.70">4</tspan></text>
<line x1="153.72" y1="781.4" x2="153.72" y2="784.6" stroke="#000" stroke-width="1.25"/>
<line x1="157.77" y1="781.4" x2="157.77" y2="784.6" stroke="#000" stroke-width="1.25"/>
<line x1="160.65" y1="781.4" x2="160.65" y2="784.6" stroke="#000" stroke-width="1.25"/>
<line x1="162.88" y1="781.4" x2="162.88" y2="784.6" stroke="#000" stroke-width="1.25"/>
<line x1="164.70" y1="781.4" x2="164.70" y2="784.6" stroke="#000" stroke-width="1.25"/>
<line x1="166.24" y1="781.4" x2="166.24" y2="784.6" stroke="#000" stroke-width="1.25"/>
<line x1="167.57" y1="781.4" x2="167.57" y2="784.6" stroke="#000" stroke-width="1.25"/>
<line x1="168.75" y1="781.4" x2="168.75" y2="784.6" stroke="#000" stroke-width="1.25"/>
<line x1="169.80" y1="781.4" x2="169.80" y2="786.8" stroke="#000" stroke-width="1.4"/>
<text x="170.20" y="799.20" font-size="11.2" font-weight="bold" text-anchor="middle" fill="#000">10<tspan font-size="8.06" dx="0.6" dy="-4.70">5</tspan></text>
<line x1="176.72" y1="781.4" x2="176.72" y2="784.6" stroke="#000" stroke-width="1.25"/>
<line x1="180.77" y1="781.4" x2="180.77" y2="784.6" stroke="#000" stroke-width="1.25"/>
<line x1="183.65" y1="781.4" x2="183.65" y2="784.6" stroke="#000" stroke-width="1.25"/>
<line x1="185.88" y1="781.4" x2="185.88" y2="784.6" stroke="#000" stroke-width="1.25"/>
<line x1="187.70" y1="781.4" x2="187.70" y2="784.6" stroke="#000" stroke-width="1.25"/>
<line x1="189.24" y1="781.4" x2="189.24" y2="784.6" stroke="#000" stroke-width="1.25"/>
<line x1="190.57" y1="781.4" x2="190.57" y2="784.6" stroke="#000" stroke-width="1.25"/>
<line x1="191.75" y1="781.4" x2="191.75" y2="784.6" stroke="#000" stroke-width="1.25"/>
<line x1="192.80" y1="781.4" x2="192.80" y2="786.8" stroke="#000" stroke-width="1.4"/>
<text x="193.20" y="799.20" font-size="11.2" font-weight="bold" text-anchor="middle" fill="#000">10<tspan font-size="8.06" dx="0.6" dy="-4.70">6</tspan></text>
<line x1="199.72" y1="781.4" x2="199.72" y2="784.6" stroke="#000" stroke-width="1.25"/>
<line x1="203.77" y1="781.4" x2="203.77" y2="784.6" stroke="#000" stroke-width="1.25"/>
<line x1="206.65" y1="781.4" x2="206.65" y2="784.6" stroke="#000" stroke-width="1.25"/>
<line x1="208.88" y1="781.4" x2="208.88" y2="784.6" stroke="#000" stroke-width="1.25"/>
<line x1="210.70" y1="781.4" x2="210.70" y2="784.6" stroke="#000" stroke-width="1.25"/>
<line x1="212.24" y1="781.4" x2="212.24" y2="784.6" stroke="#000" stroke-width="1.25"/>
<line x1="213.57" y1="781.4" x2="213.57" y2="784.6" stroke="#000" stroke-width="1.25"/>
<line x1="214.75" y1="781.4" x2="214.75" y2="784.6" stroke="#000" stroke-width="1.25"/>
<line x1="215.80" y1="781.4" x2="215.80" y2="786.8" stroke="#000" stroke-width="1.4"/>
<text x="216.20" y="799.20" font-size="11.2" font-weight="bold" text-anchor="middle" fill="#000">10<tspan font-size="8.06" dx="0.6" dy="-4.70">7</tspan></text>
<circle cx="151.80" cy="704.40" r="2.9" fill="#000"/><circle cx="163.20" cy="710.40" r="2.9" fill="#000"/><circle cx="187.20" cy="686.20" r="2.9" fill="#000"/><circle cx="189.60" cy="673.00" r="2.9" fill="#000"/><circle cx="190.80" cy="674.20" r="2.9" fill="#000"/>
<path d="M108.6,752 L117,752 M108.6,749.8 L108.6,754.2" stroke="#000" stroke-width="0.7" fill="none"/>
<rect x="112.2" y="748.4" width="5.6" height="6.6" rx="1.6" fill="#000"/>
<text x="94.8" y="655.6" font-size="13.2" font-weight="bold" fill="#000">R<tspan font-size="8.6" dy="-5.4">2</tspan><tspan dy="5.4">=0.89</tspan></text>
<text x="94.80" y="672.00" font-size="13.2" font-weight="bold" text-anchor="start" fill="#000" >p=0.0014</text>
<text transform="translate(42.80,712.20) rotate(-90)" font-size="14" font-weight="bold" text-anchor="middle" fill="#000">RLU</text>
<text x="146.60" y="822.00" font-size="15.5" font-weight="bold" text-anchor="middle" fill="#000" >N gene copies/ng RNA</text>
<text x="236.60" y="622.60" font-size="22" font-weight="bold" text-anchor="start" fill="#000" >F</text>
<text x="352.80" y="626.00" font-size="15.5" font-weight="bold" text-anchor="middle" fill="#000" >Transfected BHK-21 cells</text>
<rect x="313.2" y="731.91" width="7.80" height="60.29" fill="#000" stroke="#111" stroke-width="0.7"/>
<rect x="325.0" y="741.26" width="7.80" height="50.94" fill="#9e9e9e" stroke="#6e6e6e" stroke-width="0.7"/>
<rect x="336.7" y="742.20" width="7.80" height="50.00" fill="#fff" stroke="#6e6e6e" stroke-width="0.7"/>
<rect x="356.9" y="711.35" width="7.80" height="80.85" fill="#000" stroke="#111" stroke-width="0.7"/>
<rect x="368.6" y="730.51" width="7.80" height="61.69" fill="#9e9e9e" stroke="#6e6e6e" stroke-width="0.7"/>
<rect x="380.4" y="718.36" width="7.80" height="73.84" fill="#fff" stroke="#6e6e6e" stroke-width="0.7"/>
<path d="M317.10,671.63 L317.10,731.91 M314.40,671.63 L319.80,671.63" stroke="#555" stroke-width="1.15" fill="none"/>
<circle cx="317.10" cy="665.55" r="1.65" fill="#000"/>
<path d="M328.90,703.41 L328.90,741.26 M326.20,703.41 L331.60,703.41" stroke="#555" stroke-width="1.15" fill="none"/>
<circle cx="328.90" cy="700.14" r="1.65" fill="#000"/><circle cx="328.90" cy="750.61" r="1.65" fill="#000"/><circle cx="328.90" cy="774.44" r="1.65" fill="#000"/>
<path d="M340.60,738.92 L340.60,742.20 M337.90,738.92 L343.30,738.92" stroke="#555" stroke-width="1.15" fill="none"/>
<circle cx="338.40" cy="745.47" r="1.65" fill="#000"/><circle cx="340.60" cy="737.05" r="1.65" fill="#000"/><circle cx="343.40" cy="743.13" r="1.65" fill="#000"/>
<path d="M360.80,692.19 L360.80,711.35 M358.10,692.19 L363.50,692.19" stroke="#555" stroke-width="1.15" fill="none"/>
<circle cx="360.80" cy="703.41" r="1.65" fill="#000"/>
<path d="M372.50,705.74 L372.50,730.51 M369.80,705.74 L375.20,705.74" stroke="#555" stroke-width="1.15" fill="none"/>
<circle cx="372.50" cy="701.07" r="1.65" fill="#000"/><circle cx="372.50" cy="745.00" r="1.65" fill="#000"/><circle cx="372.50" cy="754.35" r="1.65" fill="#000"/>
<path d="M384.30,698.73 L384.30,718.36 M381.60,698.73 L387.00,698.73" stroke="#555" stroke-width="1.15" fill="none"/>
<circle cx="382.60" cy="713.22" r="1.65" fill="#000"/><circle cx="387.00" cy="716.49" r="1.65" fill="#000"/><circle cx="385.00" cy="734.72" r="1.65" fill="#000"/>
<path d="M308.8,650.8 L308.8,792.2 L394,792.2" fill="none" stroke="#000" stroke-width="2.0"/>
<line x1="303.40000000000003" y1="792.20" x2="308.8" y2="792.20" stroke="#000" stroke-width="1.3"/>
<text x="301.40" y="796.10" font-size="11" font-weight="bold" text-anchor="end" fill="#000" >0.0</text>
<line x1="303.40000000000003" y1="745.47" x2="308.8" y2="745.47" stroke="#000" stroke-width="1.3"/>
<text x="301.40" y="749.37" font-size="11" font-weight="bold" text-anchor="end" fill="#000" >0.5</text>
<line x1="303.40000000000003" y1="698.73" x2="308.8" y2="698.73" stroke="#000" stroke-width="1.3"/>
<text x="301.40" y="702.63" font-size="11" font-weight="bold" text-anchor="end" fill="#000" >1.0</text>
<line x1="303.40000000000003" y1="652.00" x2="308.8" y2="652.00" stroke="#000" stroke-width="1.3"/>
<text x="301.40" y="655.90" font-size="11" font-weight="bold" text-anchor="end" fill="#000" >1.5</text>
<line x1="328.9" y1="792.2" x2="328.9" y2="797.6" stroke="#000" stroke-width="1.3"/>
<line x1="372.5" y1="792.2" x2="372.5" y2="797.6" stroke="#000" stroke-width="1.3"/>
<text transform="translate(333.00,799.60) rotate(-90)" font-size="11.4" font-weight="bold" text-anchor="end" fill="#000">Delta</text>
<text transform="translate(376.60,799.00) rotate(-90)" font-size="11.4" font-weight="bold" text-anchor="end" fill="#000">Omicron</text>
<text transform="translate(272.00,721.40) rotate(-90)" font-size="15.6" font-weight="bold" text-anchor="middle" fill="#000">Normalized RLU</text>
<rect x="368.4" y="637.8" width="14.2" height="11.6" fill="#000" stroke="#333" stroke-width="0.7"/>
<text x="391.00" y="648.80" font-size="15" font-weight="normal" text-anchor="start" fill="#111" >Delta S</text>
<rect x="368.4" y="654.6" width="14.2" height="11.6" fill="#9e9e9e" stroke="#333" stroke-width="0.7"/>
<text x="391.00" y="665.60" font-size="15" font-weight="normal" text-anchor="start" fill="#111" >Omicron S</text>
<rect x="368.4" y="671.4" width="14.2" height="11.6" fill="#fff" stroke="#333" stroke-width="0.7"/>
<text x="391.00" y="682.40" font-size="15" font-weight="normal" text-anchor="start" fill="#111" >VSV-G</text>
<text x="471.60" y="621.00" font-size="21.5" font-weight="bold" text-anchor="start" fill="#000" >G</text>
<text x="572.60" y="615.80" font-size="15.2" font-weight="bold" text-anchor="middle" fill="#000" >Infected Vero</text>
<text x="573.00" y="633.60" font-size="15.2" font-weight="bold" text-anchor="middle" fill="#000" >ACE2 TMPRSS2 cells</text>
<rect x="543.0" y="678.54" width="6.80" height="115.26" fill="#000" stroke="#111" stroke-width="0.7"/>
<rect x="552.4" y="706.28" width="6.80" height="87.52" fill="#9e9e9e" stroke="#6e6e6e" stroke-width="0.7"/>
<rect x="561.8" y="687.95" width="6.80" height="105.85" fill="#fff" stroke="#6e6e6e" stroke-width="0.7"/>
<rect x="576.6" y="792.09" width="6.80" height="1.71" fill="#000" stroke="#111" stroke-width="0.7"/>
<rect x="586.0" y="787.26" width="6.80" height="6.54" fill="#9e9e9e" stroke="#6e6e6e" stroke-width="0.7"/>
<rect x="595.4" y="786.34" width="6.80" height="7.46" fill="#fff" stroke="#6e6e6e" stroke-width="0.7"/>
<path d="M546.40,673.77 L546.40,678.54 M544.10,673.77 L548.70,673.77" stroke="#444" stroke-width="1.15" fill="none"/>
<circle cx="546.40" cy="670.98" r="1.6" fill="#000"/><circle cx="546.40" cy="676.86" r="1.6" fill="#000"/>
<path d="M555.80,701.25 L555.80,706.28 M553.50,701.25 L558.10,701.25" stroke="#444" stroke-width="1.15" fill="none"/>
<circle cx="555.80" cy="700.03" r="1.6" fill="#000"/><circle cx="555.80" cy="703.86" r="1.6" fill="#000"/><circle cx="555.80" cy="714.41" r="1.6" fill="#000"/>
<path d="M565.20,677.97 L565.20,687.95 M562.90,677.97 L567.50,677.97" stroke="#444" stroke-width="1.15" fill="none"/>
<circle cx="565.20" cy="673.29" r="1.6" fill="#000"/><circle cx="565.20" cy="688.75" r="1.6" fill="#000"/><circle cx="565.20" cy="709.07" r="1.6" fill="#000"/>
<path d="M580.00,790.48 L580.00,792.09 M577.70,790.48 L582.30,790.48" stroke="#444" stroke-width="1.15" fill="none"/>
<circle cx="580.00" cy="791.01" r="1.6" fill="#000"/>
<path d="M589.40,779.66 L589.40,787.26 M587.10,779.66 L591.70,779.66" stroke="#444" stroke-width="1.15" fill="none"/>
<circle cx="589.40" cy="787.97" r="1.6" fill="#000"/>
<path d="M598.80,778.59 L598.80,786.34 M596.50,778.59 L601.10,778.59" stroke="#444" stroke-width="1.15" fill="none"/>
<circle cx="597.60" cy="780.95" r="1.6" fill="#000"/><circle cx="600.20" cy="778.94" r="1.6" fill="#000"/>
<path d="M540.0,657.6 L540.0,793.8 L605.6,793.8" fill="none" stroke="#000" stroke-width="2.0"/>
<line x1="533.4" y1="793.80" x2="540.0" y2="793.80" stroke="#000" stroke-width="1.5"/>
<text x="533.20" y="797.50" font-size="10.3" font-weight="bold" text-anchor="end" fill="#000" >1</text>
<line x1="536.2" y1="773.48" x2="540.0" y2="773.48" stroke="#000" stroke-width="1.25"/>
<line x1="536.2" y1="761.59" x2="540.0" y2="761.59" stroke="#000" stroke-width="1.25"/>
<line x1="536.2" y1="753.16" x2="540.0" y2="753.16" stroke="#000" stroke-width="1.25"/>
<line x1="536.2" y1="746.62" x2="540.0" y2="746.62" stroke="#000" stroke-width="1.25"/>
<line x1="536.2" y1="741.27" x2="540.0" y2="741.27" stroke="#000" stroke-width="1.25"/>
<line x1="536.2" y1="736.76" x2="540.0" y2="736.76" stroke="#000" stroke-width="1.25"/>
<line x1="536.2" y1="732.84" x2="540.0" y2="732.84" stroke="#000" stroke-width="1.25"/>
<line x1="536.2" y1="729.39" x2="540.0" y2="729.39" stroke="#000" stroke-width="1.25"/>
<line x1="533.4" y1="726.30" x2="540.0" y2="726.30" stroke="#000" stroke-width="1.5"/>
<text x="533.20" y="730.00" font-size="10.3" font-weight="bold" text-anchor="end" fill="#000" >10</text>
<line x1="536.2" y1="705.98" x2="540.0" y2="705.98" stroke="#000" stroke-width="1.25"/>
<line x1="536.2" y1="694.09" x2="540.0" y2="694.09" stroke="#000" stroke-width="1.25"/>
<line x1="536.2" y1="685.66" x2="540.0" y2="685.66" stroke="#000" stroke-width="1.25"/>
<line x1="536.2" y1="679.12" x2="540.0" y2="679.12" stroke="#000" stroke-width="1.25"/>
<line x1="536.2" y1="673.77" x2="540.0" y2="673.77" stroke="#000" stroke-width="1.25"/>
<line x1="536.2" y1="669.26" x2="540.0" y2="669.26" stroke="#000" stroke-width="1.25"/>
<line x1="536.2" y1="665.34" x2="540.0" y2="665.34" stroke="#000" stroke-width="1.25"/>
<line x1="536.2" y1="661.89" x2="540.0" y2="661.89" stroke="#000" stroke-width="1.25"/>
<line x1="533.4" y1="658.80" x2="540.0" y2="658.80" stroke="#000" stroke-width="1.5"/>
<text x="533.20" y="662.50" font-size="10.3" font-weight="bold" text-anchor="end" fill="#000" >100</text>
<line x1="555.8" y1="793.8" x2="555.8" y2="799.1999999999999" stroke="#000" stroke-width="1.3"/>
<line x1="589.4" y1="793.8" x2="589.4" y2="799.1999999999999" stroke="#000" stroke-width="1.3"/>
<text transform="translate(559.80,801.40) rotate(-90)" font-size="11.2" font-weight="bold" text-anchor="end" fill="#000">Delta</text>
<text transform="translate(593.40,800.40) rotate(-90)" font-size="11.2" font-weight="bold" text-anchor="end" fill="#000">Omicron</text>
<text transform="translate(503.80,726.40) rotate(-90)" font-size="15" font-weight="bold" text-anchor="middle" fill="#000">Normalized RLU</text>
<text x="546.40" y="667.40" font-size="11" font-weight="normal" text-anchor="middle" fill="#000" letter-spacing="-0.9">**</text>
<text x="555.40" y="696.00" font-size="11" font-weight="normal" text-anchor="middle" fill="#000" letter-spacing="-0.9">**</text>
<text x="565.00" y="667.40" font-size="11" font-weight="normal" text-anchor="middle" fill="#000" letter-spacing="-0.9">*</text>
<rect x="591.8" y="680.0" width="14.2" height="11.6" fill="#000" stroke="#333" stroke-width="0.7"/>
<text x="614.40" y="691.00" font-size="15.2" font-weight="normal" text-anchor="start" fill="#111" >Delta S</text>
<rect x="591.8" y="696.8" width="14.2" height="11.6" fill="#9e9e9e" stroke="#333" stroke-width="0.7"/>
<text x="614.40" y="707.80" font-size="15.2" font-weight="normal" text-anchor="start" fill="#111" >Omicron S</text>
<rect x="591.8" y="713.6" width="14.2" height="11.6" fill="#fff" stroke="#333" stroke-width="0.7"/>
<text x="614.40" y="724.60" font-size="15.2" font-weight="normal" text-anchor="start" fill="#111" >VSV-G</text>
</svg>
</body>
</html>
